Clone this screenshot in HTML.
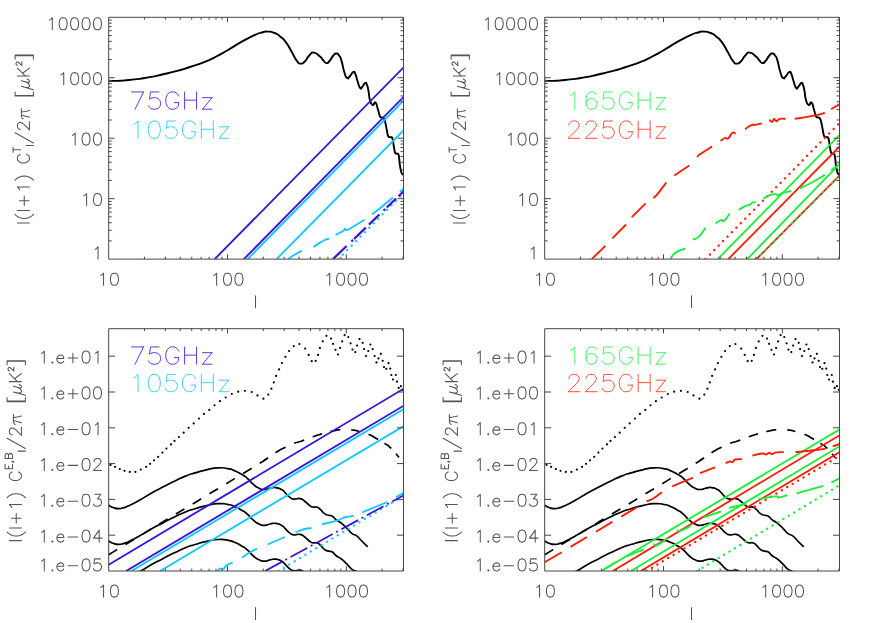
<!DOCTYPE html>
<html><head><meta charset="utf-8"><title>CMB power spectra and foreground noise</title>
<style>html,body{margin:0;padding:0;background:#fff;font-family:"Liberation Sans",sans-serif}svg{display:block}</style>
</head><body>
<svg width="872" height="623" viewBox="0 0 872 623">
<rect width="872" height="623" fill="#fff"/>
<defs>
<clipPath id="c1"><rect x="108.70" y="17.30" width="294.80" height="241.80"/></clipPath>
<clipPath id="c2"><rect x="544.70" y="17.30" width="294.80" height="241.80"/></clipPath>
<clipPath id="c3"><rect x="108.70" y="328.70" width="294.80" height="242.30"/></clipPath>
<clipPath id="c4"><rect x="544.70" y="328.70" width="294.80" height="242.30"/></clipPath>
</defs>
<g clip-path="url(#c1)">
<path d="M108.70 80.80 C112.70 80.77 112.10 81.17 120.70 80.70 C129.30 80.23 125.30 80.50 134.50 79.40 C143.70 78.30 139.07 79.03 148.30 77.40 C157.53 75.77 152.97 76.57 162.20 74.50 C171.43 72.43 166.80 73.70 176.00 71.20 C185.20 68.70 180.60 69.97 189.80 67.00 C199.00 64.03 195.60 65.37 203.60 62.30 C211.60 59.23 205.80 61.83 213.80 57.80 C221.80 53.77 218.40 55.50 227.60 50.20 C236.80 44.90 232.20 47.03 241.40 41.90 C250.60 36.77 248.27 37.93 255.20 34.80 C262.13 31.67 258.03 33.57 262.20 32.50 C266.37 31.43 263.57 31.43 267.70 31.60 C271.83 31.77 270.47 31.40 274.60 33.00 C278.73 34.60 276.43 33.43 280.10 36.40 C283.77 39.37 281.90 37.07 285.60 41.90 C289.30 46.73 287.50 44.67 291.20 50.90 C294.90 57.13 293.50 56.37 296.70 60.60 C299.90 64.83 298.03 63.37 300.80 63.60 C303.57 63.83 302.23 63.93 305.00 61.30 C307.77 58.67 306.13 58.60 309.10 55.70 C312.07 52.80 310.27 52.30 313.90 52.60 C317.53 52.90 316.97 54.13 320.00 56.60 C323.03 59.07 320.90 57.87 323.00 60.00 C325.10 62.13 324.13 62.67 326.30 63.00 C328.47 63.33 327.27 63.33 329.50 61.00 C331.73 58.67 330.77 58.50 333.00 56.00 C335.23 53.50 334.20 53.67 336.20 53.50 C338.20 53.33 337.27 53.20 339.00 55.50 C340.73 57.80 339.63 54.90 341.40 60.40 C343.17 65.90 342.37 66.13 344.30 72.00 C346.23 77.87 345.30 76.67 347.20 78.00 C349.10 79.33 347.93 78.00 350.00 76.00 C352.07 74.00 351.57 72.50 353.40 72.00 C355.23 71.50 354.13 71.50 355.50 74.50 C356.87 77.50 355.93 76.50 357.50 81.00 C359.07 85.50 358.53 86.17 360.20 88.00 C361.87 89.83 360.80 88.17 362.50 86.50 C364.20 84.83 363.80 83.50 365.30 83.00 C366.80 82.50 365.93 82.33 367.00 85.00 C368.07 87.67 367.53 86.10 368.50 91.00 C369.47 95.90 368.53 95.07 369.90 99.70 C371.27 104.33 370.73 103.93 372.60 104.90 C374.47 105.87 373.77 101.23 375.50 102.60 C377.23 103.97 376.53 105.03 377.80 109.00 C379.07 112.97 378.47 111.90 379.30 114.50 C380.13 117.10 379.53 115.83 380.30 116.80 C381.07 117.77 380.70 117.13 381.60 117.40 C382.50 117.67 382.13 117.07 383.00 117.60 C383.87 118.13 383.43 117.37 384.20 119.00 C384.97 120.63 384.43 118.83 385.30 122.50 C386.17 126.17 385.90 125.63 386.80 130.00 C387.70 134.37 387.13 133.27 388.00 135.60 C388.87 137.93 388.23 136.40 389.40 137.00 C390.57 137.60 390.40 136.53 391.50 137.40 C392.60 138.27 391.87 136.20 392.70 139.60 C393.53 143.00 393.23 143.37 394.00 147.60 C394.77 151.83 394.27 150.33 395.00 152.30 C395.73 154.27 395.23 152.97 396.20 153.50 C397.17 154.03 397.00 152.90 397.90 153.90 C398.80 154.90 398.27 153.03 398.90 156.50 C399.53 159.97 399.23 160.13 399.80 164.30 C400.37 168.47 400.03 166.23 400.60 169.00 C401.17 171.77 400.83 170.83 401.50 172.60 C402.17 174.37 401.87 173.57 402.60 174.30 C403.33 175.03 403.33 174.63 403.70 174.80" fill="none" stroke="#000" stroke-width="1.90" stroke-linejoin="round"/>
<path d="M214.70 259.10 L403.70 67.30" fill="none" stroke="#3a12d8" stroke-width="1.85" stroke-linecap="butt"/>
<path d="M243.90 259.10 L403.70 96.80" fill="none" stroke="#3a12d8" stroke-width="1.85" stroke-linecap="butt"/>
<path d="M247.60 259.10 L403.70 100.50" fill="none" stroke="#12c8ff" stroke-width="1.85" stroke-linecap="butt"/>
<path d="M276.60 259.10 L403.70 130.20" fill="none" stroke="#12c8ff" stroke-width="1.85" stroke-linecap="butt"/>
<path d="M338.30 259.10 L403.70 193.00" fill="none" stroke="#12c8ff" stroke-width="2.30" stroke-dasharray="0.1 6.2" stroke-linecap="round"/>
<path d="M333.00 259.10 L346.60 246.04 M351.40 241.43 L353.00 239.89 M354.00 238.93 L365.80 227.60 M368.90 224.62 L379.40 214.54 M383.50 210.60 L385.20 208.97 M386.80 207.43 L396.10 198.50 M398.50 196.19 L403.70 191.20" fill="none" stroke="#3a12d8" stroke-width="2.20" stroke-linecap="butt" stroke-linejoin="round"/>
<path d="M288.20 259.10 C290.01 257.87 291.32 256.71 295.00 254.50 C298.68 252.29 300.13 251.79 302.00 250.80 M313.50 247.00 C315.23 245.83 316.43 244.71 320.00 242.60 C323.57 240.49 324.55 239.98 326.90 239.10 C329.25 238.22 328.29 239.25 328.80 239.30 M335.60 234.90 C337.60 233.86 340.62 232.65 343.10 231.00 C345.58 229.35 343.81 228.99 344.90 228.70 C345.99 228.41 344.59 230.67 347.20 229.90 C349.81 229.13 350.09 228.49 354.70 225.80 C359.31 223.11 361.89 221.40 364.50 219.80 M372.00 214.30 C374.48 212.43 375.75 211.78 381.30 207.30 C386.85 202.82 389.73 200.11 392.80 197.50 M399.80 191.70 L403.70 188.80" fill="none" stroke="#12c8ff" stroke-width="1.85" stroke-linecap="butt" stroke-linejoin="round"/>
</g>
<g clip-path="url(#c2)">
<path d="M544.70 80.80 C548.70 80.77 548.10 81.17 556.70 80.70 C565.30 80.23 561.30 80.50 570.50 79.40 C579.70 78.30 575.07 79.03 584.30 77.40 C593.53 75.77 588.97 76.57 598.20 74.50 C607.43 72.43 602.80 73.70 612.00 71.20 C621.20 68.70 616.60 69.97 625.80 67.00 C635.00 64.03 631.60 65.37 639.60 62.30 C647.60 59.23 641.80 61.83 649.80 57.80 C657.80 53.77 654.40 55.50 663.60 50.20 C672.80 44.90 668.20 47.03 677.40 41.90 C686.60 36.77 684.27 37.93 691.20 34.80 C698.13 31.67 694.03 33.57 698.20 32.50 C702.37 31.43 699.57 31.43 703.70 31.60 C707.83 31.77 706.47 31.40 710.60 33.00 C714.73 34.60 712.43 33.43 716.10 36.40 C719.77 39.37 717.90 37.07 721.60 41.90 C725.30 46.73 723.50 44.67 727.20 50.90 C730.90 57.13 729.50 56.37 732.70 60.60 C735.90 64.83 734.03 63.37 736.80 63.60 C739.57 63.83 738.23 63.93 741.00 61.30 C743.77 58.67 742.13 58.60 745.10 55.70 C748.07 52.80 746.27 52.30 749.90 52.60 C753.53 52.90 752.97 54.13 756.00 56.60 C759.03 59.07 756.90 57.87 759.00 60.00 C761.10 62.13 760.13 62.67 762.30 63.00 C764.47 63.33 763.27 63.33 765.50 61.00 C767.73 58.67 766.77 58.50 769.00 56.00 C771.23 53.50 770.20 53.67 772.20 53.50 C774.20 53.33 773.27 53.20 775.00 55.50 C776.73 57.80 775.63 54.90 777.40 60.40 C779.17 65.90 778.37 66.13 780.30 72.00 C782.23 77.87 781.30 76.67 783.20 78.00 C785.10 79.33 783.93 78.00 786.00 76.00 C788.07 74.00 787.57 72.50 789.40 72.00 C791.23 71.50 790.13 71.50 791.50 74.50 C792.87 77.50 791.93 76.50 793.50 81.00 C795.07 85.50 794.53 86.17 796.20 88.00 C797.87 89.83 796.80 88.17 798.50 86.50 C800.20 84.83 799.80 83.50 801.30 83.00 C802.80 82.50 801.93 82.33 803.00 85.00 C804.07 87.67 803.53 86.10 804.50 91.00 C805.47 95.90 804.53 95.07 805.90 99.70 C807.27 104.33 806.73 103.93 808.60 104.90 C810.47 105.87 809.77 101.23 811.50 102.60 C813.23 103.97 812.53 105.03 813.80 109.00 C815.07 112.97 814.47 111.90 815.30 114.50 C816.13 117.10 815.53 115.83 816.30 116.80 C817.07 117.77 816.70 117.13 817.60 117.40 C818.50 117.67 818.13 117.07 819.00 117.60 C819.87 118.13 819.43 117.37 820.20 119.00 C820.97 120.63 820.43 118.83 821.30 122.50 C822.17 126.17 821.90 125.63 822.80 130.00 C823.70 134.37 823.13 133.27 824.00 135.60 C824.87 137.93 824.23 136.40 825.40 137.00 C826.57 137.60 826.40 136.53 827.50 137.40 C828.60 138.27 827.87 136.20 828.70 139.60 C829.53 143.00 829.23 143.37 830.00 147.60 C830.77 151.83 830.27 150.33 831.00 152.30 C831.73 154.27 831.23 152.97 832.20 153.50 C833.17 154.03 833.00 152.90 833.90 153.90 C834.80 154.90 834.27 153.03 834.90 156.50 C835.53 159.97 835.23 160.13 835.80 164.30 C836.37 168.47 836.03 166.23 836.60 169.00 C837.17 171.77 836.83 170.83 837.50 172.60 C838.17 174.37 837.87 173.57 838.60 174.30 C839.33 175.03 839.33 174.63 839.70 174.80" fill="none" stroke="#000" stroke-width="1.90" stroke-linejoin="round"/>
<path d="M705.40 259.10 L839.70 122.80" fill="none" stroke="#ff1c00" stroke-width="2.30" stroke-dasharray="0.1 6.2" stroke-linecap="round"/>
<path d="M717.80 259.10 L839.70 134.80" fill="none" stroke="#18f038" stroke-width="1.85" stroke-linecap="butt"/>
<path d="M728.30 259.10 L839.70 146.40" fill="none" stroke="#ff1c00" stroke-width="1.85" stroke-linecap="butt"/>
<path d="M747.30 259.10 L839.70 163.80" fill="none" stroke="#18f038" stroke-width="1.85" stroke-linecap="butt"/>
<path d="M756.50 259.10 L839.70 175.30" fill="none" stroke="#ff1c00" stroke-width="1.85" stroke-linecap="butt"/>
<path d="M756.50 259.10 L839.70 175.30" fill="none" stroke="#18f038" stroke-width="2.30" stroke-dasharray="0.1 6.2" stroke-linecap="round"/>
<path d="M591.70 259.10 L605.40 245.80 M612.30 238.30 L626.10 224.50 M631.80 217.10 L645.60 203.40 M653.70 196.20 C654.31 196.09 652.64 199.45 656.00 195.80 C659.36 192.15 663.55 186.05 666.30 182.50 M674.30 175.60 L689.30 165.50 M697.30 157.20 C698.02 156.40 696.05 157.03 700.00 154.20 C703.95 151.37 708.87 148.63 712.10 146.60 M720.60 141.10 C721.75 140.27 722.85 138.75 724.90 138.00 C726.95 137.25 726.30 139.69 728.30 138.30 C730.30 136.91 730.40 134.03 732.40 132.80 C734.40 131.57 734.89 133.46 735.80 133.70 M745.10 129.30 C746.65 128.23 747.83 126.53 750.90 125.30 C753.97 124.07 753.69 125.23 756.60 124.70 C759.51 124.17 760.41 123.67 761.80 123.30 M769.40 119.80 C770.17 120.33 771.07 122.09 772.30 121.80 C773.53 121.51 772.93 118.86 774.00 118.70 C775.07 118.54 774.75 121.15 776.30 121.20 C777.85 121.25 777.35 119.51 779.80 118.90 C782.25 118.29 783.98 118.90 785.50 118.90 M794.80 118.90 C799.25 118.18 803.50 117.77 811.50 116.20 C819.50 114.63 821.25 113.85 824.80 113.00 M831.10 109.30 L839.70 104.10" fill="none" stroke="#ff1c00" stroke-width="1.85" stroke-linecap="butt" stroke-linejoin="round"/>
<path d="M670.40 259.10 C671.76 257.39 671.58 255.50 675.50 252.70 C679.42 249.90 682.54 249.69 685.10 248.60 M692.70 239.40 C694.22 238.79 694.99 240.19 698.40 237.10 C701.81 234.01 703.61 230.28 705.50 227.80 M715.60 223.40 C716.99 222.52 718.48 220.82 720.80 220.10 C723.12 219.38 721.98 222.38 724.30 220.70 C726.62 219.02 728.11 215.64 729.50 213.80 M738.70 209.70 C740.70 208.63 743.27 206.98 746.20 205.70 C749.13 204.42 747.99 205.75 749.70 204.90 C751.41 204.05 751.05 203.14 752.60 202.50 C754.15 201.86 754.73 202.50 755.50 202.50 M763.40 198.70 C765.00 197.79 766.28 196.53 769.40 195.30 C772.52 194.07 772.65 193.97 775.10 194.10 C777.55 194.23 777.05 195.96 778.60 195.80 C780.15 195.64 777.51 194.78 780.90 193.50 C784.29 192.22 788.53 191.67 791.30 191.00 M799.90 188.20 C803.13 186.68 805.36 186.05 812.00 182.50 C818.64 178.95 821.39 176.93 824.80 174.90 M831.10 170.30 L839.70 163.90" fill="none" stroke="#18f038" stroke-width="1.85" stroke-linecap="butt" stroke-linejoin="round"/>
</g>
<g clip-path="url(#c3)">
<g fill="#000"><circle cx="110.50" cy="464.90" r="1.1"/><circle cx="115.10" cy="466.80" r="1.1"/><circle cx="119.80" cy="469.10" r="1.1"/><circle cx="124.50" cy="470.80" r="1.1"/><circle cx="129.80" cy="471.90" r="1.1"/><circle cx="135.40" cy="471.90" r="1.1"/><circle cx="140.80" cy="469.60" r="1.1"/><circle cx="146.10" cy="466.80" r="1.1"/><circle cx="150.10" cy="463.80" r="1.1"/><circle cx="154.00" cy="460.30" r="1.1"/><circle cx="158.20" cy="456.80" r="1.1"/><circle cx="162.40" cy="452.60" r="1.1"/><circle cx="166.40" cy="448.60" r="1.1"/><circle cx="171.00" cy="444.40" r="1.1"/><circle cx="174.50" cy="440.90" r="1.1"/><circle cx="178.90" cy="437.00" r="1.1"/><circle cx="183.70" cy="432.70" r="1.1"/><circle cx="188.70" cy="427.80" r="1.1"/><circle cx="193.70" cy="423.40" r="1.1"/><circle cx="198.90" cy="418.60" r="1.1"/><circle cx="203.90" cy="413.90" r="1.1"/><circle cx="209.30" cy="409.90" r="1.1"/><circle cx="214.50" cy="405.30" r="1.1"/><circle cx="219.90" cy="401.20" r="1.1"/><circle cx="225.70" cy="397.50" r="1.1"/><circle cx="231.80" cy="394.00" r="1.1"/><circle cx="238.20" cy="391.70" r="1.1"/><circle cx="244.90" cy="390.80" r="1.1"/><circle cx="251.70" cy="392.00" r="1.1"/><circle cx="257.50" cy="395.40" r="1.1"/><circle cx="263.40" cy="398.70" r="1.1"/><circle cx="268.30" cy="394.60" r="1.1"/><circle cx="271.40" cy="388.70" r="1.1"/><circle cx="273.80" cy="382.40" r="1.1"/><circle cx="276.10" cy="375.90" r="1.1"/><circle cx="279.10" cy="369.40" r="1.1"/><circle cx="281.90" cy="363.10" r="1.1"/><circle cx="285.40" cy="356.80" r="1.1"/><circle cx="289.10" cy="351.00" r="1.1"/><circle cx="293.80" cy="346.10" r="1.1"/><circle cx="299.40" cy="344.00" r="1.1"/><circle cx="305.20" cy="348.60" r="1.1"/><circle cx="308.70" cy="354.90" r="1.1"/><circle cx="311.70" cy="361.20" r="1.1"/><circle cx="315.70" cy="360.80" r="1.1"/><circle cx="318.00" cy="354.90" r="1.1"/><circle cx="319.90" cy="347.90" r="1.1"/><circle cx="322.70" cy="341.40" r="1.1"/><circle cx="326.40" cy="335.80" r="1.1"/><circle cx="331.00" cy="338.60" r="1.1"/><circle cx="333.10" cy="343.80" r="1.1"/><circle cx="335.50" cy="349.80" r="1.1"/><circle cx="338.00" cy="354.50" r="1.1"/><circle cx="340.10" cy="347.90" r="1.1"/><circle cx="342.20" cy="341.40" r="1.1"/><circle cx="344.60" cy="335.10" r="1.1"/><circle cx="348.30" cy="337.00" r="1.1"/><circle cx="350.60" cy="343.30" r="1.1"/><circle cx="352.50" cy="349.60" r="1.1"/><circle cx="355.30" cy="352.10" r="1.1"/><circle cx="357.10" cy="345.60" r="1.1"/><circle cx="359.50" cy="339.10" r="1.1"/><circle cx="362.70" cy="342.80" r="1.1"/><circle cx="364.10" cy="349.10" r="1.1"/><circle cx="366.00" cy="356.10" r="1.1"/><circle cx="368.30" cy="351.00" r="1.1"/><circle cx="370.40" cy="344.50" r="1.1"/><circle cx="372.70" cy="349.10" r="1.1"/><circle cx="374.60" cy="356.10" r="1.1"/><circle cx="376.50" cy="362.40" r="1.1"/><circle cx="378.50" cy="358.40" r="1.1"/><circle cx="380.90" cy="353.80" r="1.1"/><circle cx="382.70" cy="360.80" r="1.1"/><circle cx="384.00" cy="367.10" r="1.1"/><circle cx="386.30" cy="368.80" r="1.1"/><circle cx="388.50" cy="363.20" r="1.1"/><circle cx="390.20" cy="368.60" r="1.1"/><circle cx="391.30" cy="375.00" r="1.1"/><circle cx="393.00" cy="379.50" r="1.1"/><circle cx="395.80" cy="375.00" r="1.1"/><circle cx="397.00" cy="381.70" r="1.1"/><circle cx="398.70" cy="387.90" r="1.1"/><circle cx="400.90" cy="386.20" r="1.1"/><circle cx="402.80" cy="389.80" r="1.1"/></g>
<path d="M108.70 505.20 C110.13 505.97 109.60 506.37 113.00 507.50 C116.40 508.63 115.23 508.57 118.90 508.60 C122.57 508.63 120.93 508.43 124.00 507.60 C127.07 506.77 122.87 508.63 128.10 506.10 C133.33 503.57 132.00 504.30 139.70 500.00 C147.40 495.70 143.50 497.50 151.20 493.20 C158.90 488.90 155.07 491.10 162.80 487.10 C170.53 483.10 166.70 484.93 174.40 481.20 C182.10 477.47 179.03 478.67 185.90 475.90 C192.77 473.13 188.10 474.93 195.00 472.90 C201.90 470.87 198.90 471.47 206.60 469.80 C214.30 468.13 211.17 468.30 218.10 467.90 C225.03 467.50 222.00 467.70 227.40 468.60 C232.80 469.50 229.70 468.77 234.30 470.60 C238.90 472.43 236.97 471.60 241.20 474.10 C245.43 476.60 243.13 474.83 247.00 478.10 C250.87 481.37 248.93 480.60 252.80 483.90 C256.67 487.20 254.73 486.13 258.60 488.00 C262.47 489.87 260.57 489.43 264.40 489.50 C268.23 489.57 266.27 488.83 270.10 488.20 C273.93 487.57 272.03 487.10 275.90 487.60 C279.77 488.10 278.67 488.07 281.70 489.70 C284.73 491.33 282.37 490.03 285.00 492.50 C287.63 494.97 286.53 494.90 289.60 497.10 C292.67 499.30 290.73 498.60 294.20 499.10 C297.67 499.60 296.50 497.90 300.00 498.60 C303.50 499.30 301.60 499.00 304.70 501.20 C307.80 503.40 306.63 503.27 309.30 505.20 C311.97 507.13 310.00 506.33 312.70 507.00 C315.40 507.67 314.70 506.23 317.40 507.20 C320.10 508.17 318.30 507.67 320.80 509.90 C323.30 512.13 322.20 512.10 324.90 513.90 C327.60 515.70 326.40 514.53 328.90 515.30 C331.40 516.07 330.07 514.73 332.40 516.20 C334.73 517.67 333.60 517.83 335.90 519.70 C338.20 521.57 337.00 520.27 339.30 521.80 C341.60 523.33 340.10 521.93 342.80 524.30 C345.50 526.67 344.30 525.80 347.40 528.90 C350.50 532.00 349.00 531.27 352.10 533.60 C355.20 535.93 353.63 533.60 356.70 535.90 C359.77 538.20 357.63 536.87 361.30 540.50 C364.97 544.13 365.57 544.70 367.70 546.80" fill="none" stroke="#000" stroke-width="1.7" stroke-linejoin="round"/>
<path d="M108.70 541.00 C110.13 541.77 109.60 542.17 113.00 543.30 C116.40 544.43 115.23 544.37 118.90 544.40 C122.57 544.43 120.93 544.23 124.00 543.40 C127.07 542.57 122.87 544.43 128.10 541.90 C133.33 539.37 132.00 540.10 139.70 535.80 C147.40 531.50 143.50 533.30 151.20 529.00 C158.90 524.70 155.07 526.90 162.80 522.90 C170.53 518.90 166.70 520.73 174.40 517.00 C182.10 513.27 179.03 514.47 185.90 511.70 C192.77 508.93 188.10 510.73 195.00 508.70 C201.90 506.67 198.90 507.27 206.60 505.60 C214.30 503.93 211.17 504.10 218.10 503.70 C225.03 503.30 222.00 503.50 227.40 504.40 C232.80 505.30 229.70 504.57 234.30 506.40 C238.90 508.23 236.97 507.40 241.20 509.90 C245.43 512.40 243.13 510.63 247.00 513.90 C250.87 517.17 248.93 516.40 252.80 519.70 C256.67 523.00 254.73 521.93 258.60 523.80 C262.47 525.67 260.57 525.23 264.40 525.30 C268.23 525.37 266.27 524.63 270.10 524.00 C273.93 523.37 272.03 522.90 275.90 523.40 C279.77 523.90 278.67 523.87 281.70 525.50 C284.73 527.13 282.37 525.83 285.00 528.30 C287.63 530.77 286.53 530.70 289.60 532.90 C292.67 535.10 290.73 534.40 294.20 534.90 C297.67 535.40 296.50 533.70 300.00 534.40 C303.50 535.10 301.60 534.80 304.70 537.00 C307.80 539.20 306.63 539.07 309.30 541.00 C311.97 542.93 310.00 542.13 312.70 542.80 C315.40 543.47 314.70 542.03 317.40 543.00 C320.10 543.97 318.30 543.47 320.80 545.70 C323.30 547.93 322.20 547.90 324.90 549.70 C327.60 551.50 326.40 550.33 328.90 551.10 C331.40 551.87 330.07 550.53 332.40 552.00 C334.73 553.47 333.60 553.63 335.90 555.50 C338.20 557.37 337.00 556.07 339.30 557.60 C341.60 559.13 340.10 557.73 342.80 560.10 C345.50 562.47 344.30 561.60 347.40 564.70 C350.50 567.80 349.00 567.07 352.10 569.40 C355.20 571.73 353.63 569.40 356.70 571.70 C359.77 574.00 357.63 572.67 361.30 576.30 C364.97 579.93 365.57 580.50 367.70 582.60" fill="none" stroke="#000" stroke-width="1.7" stroke-linejoin="round"/>
<path d="M108.70 576.80 C110.13 577.57 109.60 577.97 113.00 579.10 C116.40 580.23 115.23 580.17 118.90 580.20 C122.57 580.23 120.93 580.03 124.00 579.20 C127.07 578.37 122.87 580.23 128.10 577.70 C133.33 575.17 132.00 575.90 139.70 571.60 C147.40 567.30 143.50 569.10 151.20 564.80 C158.90 560.50 155.07 562.70 162.80 558.70 C170.53 554.70 166.70 556.53 174.40 552.80 C182.10 549.07 179.03 550.27 185.90 547.50 C192.77 544.73 188.10 546.53 195.00 544.50 C201.90 542.47 198.90 543.07 206.60 541.40 C214.30 539.73 211.17 539.90 218.10 539.50 C225.03 539.10 222.00 539.30 227.40 540.20 C232.80 541.10 229.70 540.37 234.30 542.20 C238.90 544.03 236.97 543.20 241.20 545.70 C245.43 548.20 243.13 546.43 247.00 549.70 C250.87 552.97 248.93 552.20 252.80 555.50 C256.67 558.80 254.73 557.73 258.60 559.60 C262.47 561.47 260.57 561.03 264.40 561.10 C268.23 561.17 266.27 560.43 270.10 559.80 C273.93 559.17 272.03 558.70 275.90 559.20 C279.77 559.70 278.67 559.67 281.70 561.30 C284.73 562.93 282.37 561.63 285.00 564.10 C287.63 566.57 286.53 566.50 289.60 568.70 C292.67 570.90 290.73 570.20 294.20 570.70 C297.67 571.20 296.50 569.50 300.00 570.20 C303.50 570.90 301.60 570.60 304.70 572.80 C307.80 575.00 306.63 574.87 309.30 576.80 C311.97 578.73 310.00 577.93 312.70 578.60 C315.40 579.27 314.70 577.83 317.40 578.80 C320.10 579.77 318.30 579.27 320.80 581.50 C323.30 583.73 322.20 583.70 324.90 585.50 C327.60 587.30 326.40 586.13 328.90 586.90 C331.40 587.67 330.07 586.33 332.40 587.80 C334.73 589.27 333.60 589.43 335.90 591.30 C338.20 593.17 337.00 591.87 339.30 593.40 C341.60 594.93 340.10 593.53 342.80 595.90 C345.50 598.27 344.30 597.40 347.40 600.50 C350.50 603.60 349.00 602.87 352.10 605.20 C355.20 607.53 353.63 605.20 356.70 607.50 C359.77 609.80 357.63 608.47 361.30 612.10 C364.97 615.73 365.57 616.30 367.70 618.40" fill="none" stroke="#000" stroke-width="1.7" stroke-linejoin="round"/>
<path d="M108.70 554.70 L114.19 551.38 L117.20 549.56 M125.50 544.55 L127.18 543.53 L131.18 541.12 L134.00 539.41 M142.30 534.39 L145.66 532.37 L150.80 529.26 M159.10 524.24 L159.85 523.78 L167.60 519.10 M175.90 514.08 L180.00 511.60 L184.40 508.94 M192.70 503.92 L199.78 499.65 L201.20 498.79 M209.50 493.78 L213.17 491.57 L218.00 488.66 M226.30 483.66 L226.59 483.48 L230.50 481.12 L234.63 478.61 L234.80 478.51 M243.10 473.46 L244.78 472.44 L251.40 468.40 L251.60 468.28 M259.70 463.32 L261.92 461.96 L264.59 460.30 L265.97 459.44 L266.35 459.17 L266.05 459.31 L265.39 459.68 L264.67 460.07 L264.21 460.31 L264.32 460.21 L265.31 459.57 L267.50 458.20 L268.10 457.82 M275.60 452.79 L275.65 452.75 L276.49 452.15 L277.34 451.57 L278.34 450.95 L279.59 450.23 L281.22 449.36 L283.35 448.27 L285.60 447.15 M294.20 443.20 L294.84 442.97 L295.69 442.71 L296.52 442.49 L297.46 442.26 L298.63 441.94 L300.14 441.48 L302.13 440.82 L304.20 440.08 M312.90 436.81 L312.91 436.80 L313.68 436.51 L314.39 436.25 L315.17 435.97 L316.11 435.66 L317.33 435.26 L318.92 434.76 L321.00 434.10 L322.00 433.78 M330.30 431.53 L331.40 431.32 L333.00 431.00 L334.62 430.66 L335.85 430.40 L336.77 430.20 L337.44 430.04 L337.96 429.94 L338.38 429.86 L338.77 429.81 L339.22 429.78 L339.80 429.75 L340.30 429.73 M351.20 429.90 L352.00 430.00 L353.29 430.16 L354.28 430.28 L355.02 430.38 L355.58 430.46 L356.01 430.53 L356.37 430.61 L356.74 430.71 L357.16 430.83 L357.69 430.99 L358.40 431.20 L359.35 431.46 L359.40 431.48 M368.50 434.29 L369.00 434.50 L370.20 435.02 L371.12 435.43 L371.82 435.76 L372.35 436.02 L372.76 436.25 L373.11 436.46 L373.45 436.69 L373.84 436.94 L374.32 437.26 L374.96 437.66 L375.80 438.16 L376.90 438.80 L378.00 439.42 L378.10 439.47 M384.50 443.32 L385.02 443.66 L385.78 444.12 L386.34 444.43 L386.75 444.63 L387.06 444.78 L387.32 444.91 L387.60 445.08 L387.93 445.33 L388.37 445.71 L388.98 446.27 L389.80 447.05 L390.90 448.10 L391.30 448.49 M396.10 453.76 L396.32 454.04 L396.81 454.68 L397.30 455.31 L397.81 455.97 L398.37 456.66 L399.00 457.40" fill="none" stroke="#000" stroke-width="1.7" stroke-linejoin="round"/>
<path d="M108.70 564.70 L403.70 388.70" fill="none" stroke="#3a12d8" stroke-width="1.85" stroke-linecap="butt"/>
<path d="M126.10 571.00 L403.70 405.70" fill="none" stroke="#3a12d8" stroke-width="1.85" stroke-linecap="butt"/>
<path d="M131.40 571.00 L403.70 409.00" fill="none" stroke="#12c8ff" stroke-width="1.85" stroke-linecap="butt"/>
<path d="M160.10 571.00 L403.70 426.00" fill="none" stroke="#12c8ff" stroke-width="1.85" stroke-linecap="butt"/>
<path d="M278.40 571.00 L403.70 495.50" fill="none" stroke="#12c8ff" stroke-width="2.30" stroke-dasharray="0.1 6.2" stroke-linecap="round"/>
<path d="M265.10 571.00 L403.70 495.20" fill="none" stroke="#3a12d8" stroke-width="1.75" stroke-dasharray="19 4 2 4" stroke-linecap="butt"/>
<path d="M217.60 571.00 C218.24 570.33 218.56 569.03 220.00 568.50 C221.44 567.97 221.16 569.91 223.00 569.00 C224.84 568.09 224.31 566.78 226.90 565.10 C229.49 563.42 231.15 563.34 232.70 562.70 M242.10 557.60 C244.21 556.19 246.03 554.65 250.00 552.30 C253.97 549.95 255.13 549.73 257.00 548.80 M267.50 544.50 L284.90 537.00 M295.30 532.50 C297.81 531.57 300.35 530.15 304.70 529.00 C309.05 527.85 309.76 528.41 311.60 528.20 M321.90 524.40 C325.58 523.47 330.61 522.34 335.70 520.90 C340.79 519.46 338.25 520.04 341.00 519.00 C343.75 517.96 342.59 517.85 346.00 517.00 C349.41 516.15 351.72 516.12 353.80 515.80 M362.40 512.30 L387.30 502.00 M395.90 497.20 L403.70 492.90" fill="none" stroke="#12c8ff" stroke-width="1.85" stroke-linecap="butt" stroke-linejoin="round"/>
</g>
<g clip-path="url(#c4)">
<g fill="#000"><circle cx="546.50" cy="464.90" r="1.1"/><circle cx="551.10" cy="466.80" r="1.1"/><circle cx="555.80" cy="469.10" r="1.1"/><circle cx="560.50" cy="470.80" r="1.1"/><circle cx="565.80" cy="471.90" r="1.1"/><circle cx="571.40" cy="471.90" r="1.1"/><circle cx="576.80" cy="469.60" r="1.1"/><circle cx="582.10" cy="466.80" r="1.1"/><circle cx="586.10" cy="463.80" r="1.1"/><circle cx="590.00" cy="460.30" r="1.1"/><circle cx="594.20" cy="456.80" r="1.1"/><circle cx="598.40" cy="452.60" r="1.1"/><circle cx="602.40" cy="448.60" r="1.1"/><circle cx="607.00" cy="444.40" r="1.1"/><circle cx="610.50" cy="440.90" r="1.1"/><circle cx="614.90" cy="437.00" r="1.1"/><circle cx="619.70" cy="432.70" r="1.1"/><circle cx="624.70" cy="427.80" r="1.1"/><circle cx="629.70" cy="423.40" r="1.1"/><circle cx="634.90" cy="418.60" r="1.1"/><circle cx="639.90" cy="413.90" r="1.1"/><circle cx="645.30" cy="409.90" r="1.1"/><circle cx="650.50" cy="405.30" r="1.1"/><circle cx="655.90" cy="401.20" r="1.1"/><circle cx="661.70" cy="397.50" r="1.1"/><circle cx="667.80" cy="394.00" r="1.1"/><circle cx="674.20" cy="391.70" r="1.1"/><circle cx="680.90" cy="390.80" r="1.1"/><circle cx="687.70" cy="392.00" r="1.1"/><circle cx="693.50" cy="395.40" r="1.1"/><circle cx="699.40" cy="398.70" r="1.1"/><circle cx="704.30" cy="394.60" r="1.1"/><circle cx="707.40" cy="388.70" r="1.1"/><circle cx="709.80" cy="382.40" r="1.1"/><circle cx="712.10" cy="375.90" r="1.1"/><circle cx="715.10" cy="369.40" r="1.1"/><circle cx="717.90" cy="363.10" r="1.1"/><circle cx="721.40" cy="356.80" r="1.1"/><circle cx="725.10" cy="351.00" r="1.1"/><circle cx="729.80" cy="346.10" r="1.1"/><circle cx="735.40" cy="344.00" r="1.1"/><circle cx="741.20" cy="348.60" r="1.1"/><circle cx="744.70" cy="354.90" r="1.1"/><circle cx="747.70" cy="361.20" r="1.1"/><circle cx="751.70" cy="360.80" r="1.1"/><circle cx="754.00" cy="354.90" r="1.1"/><circle cx="755.90" cy="347.90" r="1.1"/><circle cx="758.70" cy="341.40" r="1.1"/><circle cx="762.40" cy="335.80" r="1.1"/><circle cx="767.00" cy="338.60" r="1.1"/><circle cx="769.10" cy="343.80" r="1.1"/><circle cx="771.50" cy="349.80" r="1.1"/><circle cx="774.00" cy="354.50" r="1.1"/><circle cx="776.10" cy="347.90" r="1.1"/><circle cx="778.20" cy="341.40" r="1.1"/><circle cx="780.60" cy="335.10" r="1.1"/><circle cx="784.30" cy="337.00" r="1.1"/><circle cx="786.60" cy="343.30" r="1.1"/><circle cx="788.50" cy="349.60" r="1.1"/><circle cx="791.30" cy="352.10" r="1.1"/><circle cx="793.10" cy="345.60" r="1.1"/><circle cx="795.50" cy="339.10" r="1.1"/><circle cx="798.70" cy="342.80" r="1.1"/><circle cx="800.10" cy="349.10" r="1.1"/><circle cx="802.00" cy="356.10" r="1.1"/><circle cx="804.30" cy="351.00" r="1.1"/><circle cx="806.40" cy="344.50" r="1.1"/><circle cx="808.70" cy="349.10" r="1.1"/><circle cx="810.60" cy="356.10" r="1.1"/><circle cx="812.50" cy="362.40" r="1.1"/><circle cx="814.50" cy="358.40" r="1.1"/><circle cx="816.90" cy="353.80" r="1.1"/><circle cx="818.70" cy="360.80" r="1.1"/><circle cx="820.00" cy="367.10" r="1.1"/><circle cx="822.30" cy="368.80" r="1.1"/><circle cx="824.50" cy="363.20" r="1.1"/><circle cx="826.20" cy="368.60" r="1.1"/><circle cx="827.30" cy="375.00" r="1.1"/><circle cx="829.00" cy="379.50" r="1.1"/><circle cx="831.80" cy="375.00" r="1.1"/><circle cx="833.00" cy="381.70" r="1.1"/><circle cx="834.70" cy="387.90" r="1.1"/><circle cx="836.90" cy="386.20" r="1.1"/><circle cx="838.80" cy="389.80" r="1.1"/></g>
<path d="M544.70 505.20 C546.13 505.97 545.60 506.37 549.00 507.50 C552.40 508.63 551.23 508.57 554.90 508.60 C558.57 508.63 556.93 508.43 560.00 507.60 C563.07 506.77 558.87 508.63 564.10 506.10 C569.33 503.57 568.00 504.30 575.70 500.00 C583.40 495.70 579.50 497.50 587.20 493.20 C594.90 488.90 591.07 491.10 598.80 487.10 C606.53 483.10 602.70 484.93 610.40 481.20 C618.10 477.47 615.03 478.67 621.90 475.90 C628.77 473.13 624.10 474.93 631.00 472.90 C637.90 470.87 634.90 471.47 642.60 469.80 C650.30 468.13 647.17 468.30 654.10 467.90 C661.03 467.50 658.00 467.70 663.40 468.60 C668.80 469.50 665.70 468.77 670.30 470.60 C674.90 472.43 672.97 471.60 677.20 474.10 C681.43 476.60 679.13 474.83 683.00 478.10 C686.87 481.37 684.93 480.60 688.80 483.90 C692.67 487.20 690.73 486.13 694.60 488.00 C698.47 489.87 696.57 489.43 700.40 489.50 C704.23 489.57 702.27 488.83 706.10 488.20 C709.93 487.57 708.03 487.10 711.90 487.60 C715.77 488.10 714.67 488.07 717.70 489.70 C720.73 491.33 718.37 490.03 721.00 492.50 C723.63 494.97 722.53 494.90 725.60 497.10 C728.67 499.30 726.73 498.60 730.20 499.10 C733.67 499.60 732.50 497.90 736.00 498.60 C739.50 499.30 737.60 499.00 740.70 501.20 C743.80 503.40 742.63 503.27 745.30 505.20 C747.97 507.13 746.00 506.33 748.70 507.00 C751.40 507.67 750.70 506.23 753.40 507.20 C756.10 508.17 754.30 507.67 756.80 509.90 C759.30 512.13 758.20 512.10 760.90 513.90 C763.60 515.70 762.40 514.53 764.90 515.30 C767.40 516.07 766.07 514.73 768.40 516.20 C770.73 517.67 769.60 517.83 771.90 519.70 C774.20 521.57 773.00 520.27 775.30 521.80 C777.60 523.33 776.10 521.93 778.80 524.30 C781.50 526.67 780.30 525.80 783.40 528.90 C786.50 532.00 785.00 531.27 788.10 533.60 C791.20 535.93 789.63 533.60 792.70 535.90 C795.77 538.20 793.63 536.87 797.30 540.50 C800.97 544.13 801.57 544.70 803.70 546.80" fill="none" stroke="#000" stroke-width="1.7" stroke-linejoin="round"/>
<path d="M544.70 541.00 C546.13 541.77 545.60 542.17 549.00 543.30 C552.40 544.43 551.23 544.37 554.90 544.40 C558.57 544.43 556.93 544.23 560.00 543.40 C563.07 542.57 558.87 544.43 564.10 541.90 C569.33 539.37 568.00 540.10 575.70 535.80 C583.40 531.50 579.50 533.30 587.20 529.00 C594.90 524.70 591.07 526.90 598.80 522.90 C606.53 518.90 602.70 520.73 610.40 517.00 C618.10 513.27 615.03 514.47 621.90 511.70 C628.77 508.93 624.10 510.73 631.00 508.70 C637.90 506.67 634.90 507.27 642.60 505.60 C650.30 503.93 647.17 504.10 654.10 503.70 C661.03 503.30 658.00 503.50 663.40 504.40 C668.80 505.30 665.70 504.57 670.30 506.40 C674.90 508.23 672.97 507.40 677.20 509.90 C681.43 512.40 679.13 510.63 683.00 513.90 C686.87 517.17 684.93 516.40 688.80 519.70 C692.67 523.00 690.73 521.93 694.60 523.80 C698.47 525.67 696.57 525.23 700.40 525.30 C704.23 525.37 702.27 524.63 706.10 524.00 C709.93 523.37 708.03 522.90 711.90 523.40 C715.77 523.90 714.67 523.87 717.70 525.50 C720.73 527.13 718.37 525.83 721.00 528.30 C723.63 530.77 722.53 530.70 725.60 532.90 C728.67 535.10 726.73 534.40 730.20 534.90 C733.67 535.40 732.50 533.70 736.00 534.40 C739.50 535.10 737.60 534.80 740.70 537.00 C743.80 539.20 742.63 539.07 745.30 541.00 C747.97 542.93 746.00 542.13 748.70 542.80 C751.40 543.47 750.70 542.03 753.40 543.00 C756.10 543.97 754.30 543.47 756.80 545.70 C759.30 547.93 758.20 547.90 760.90 549.70 C763.60 551.50 762.40 550.33 764.90 551.10 C767.40 551.87 766.07 550.53 768.40 552.00 C770.73 553.47 769.60 553.63 771.90 555.50 C774.20 557.37 773.00 556.07 775.30 557.60 C777.60 559.13 776.10 557.73 778.80 560.10 C781.50 562.47 780.30 561.60 783.40 564.70 C786.50 567.80 785.00 567.07 788.10 569.40 C791.20 571.73 789.63 569.40 792.70 571.70 C795.77 574.00 793.63 572.67 797.30 576.30 C800.97 579.93 801.57 580.50 803.70 582.60" fill="none" stroke="#000" stroke-width="1.7" stroke-linejoin="round"/>
<path d="M544.70 576.80 C546.13 577.57 545.60 577.97 549.00 579.10 C552.40 580.23 551.23 580.17 554.90 580.20 C558.57 580.23 556.93 580.03 560.00 579.20 C563.07 578.37 558.87 580.23 564.10 577.70 C569.33 575.17 568.00 575.90 575.70 571.60 C583.40 567.30 579.50 569.10 587.20 564.80 C594.90 560.50 591.07 562.70 598.80 558.70 C606.53 554.70 602.70 556.53 610.40 552.80 C618.10 549.07 615.03 550.27 621.90 547.50 C628.77 544.73 624.10 546.53 631.00 544.50 C637.90 542.47 634.90 543.07 642.60 541.40 C650.30 539.73 647.17 539.90 654.10 539.50 C661.03 539.10 658.00 539.30 663.40 540.20 C668.80 541.10 665.70 540.37 670.30 542.20 C674.90 544.03 672.97 543.20 677.20 545.70 C681.43 548.20 679.13 546.43 683.00 549.70 C686.87 552.97 684.93 552.20 688.80 555.50 C692.67 558.80 690.73 557.73 694.60 559.60 C698.47 561.47 696.57 561.03 700.40 561.10 C704.23 561.17 702.27 560.43 706.10 559.80 C709.93 559.17 708.03 558.70 711.90 559.20 C715.77 559.70 714.67 559.67 717.70 561.30 C720.73 562.93 718.37 561.63 721.00 564.10 C723.63 566.57 722.53 566.50 725.60 568.70 C728.67 570.90 726.73 570.20 730.20 570.70 C733.67 571.20 732.50 569.50 736.00 570.20 C739.50 570.90 737.60 570.60 740.70 572.80 C743.80 575.00 742.63 574.87 745.30 576.80 C747.97 578.73 746.00 577.93 748.70 578.60 C751.40 579.27 750.70 577.83 753.40 578.80 C756.10 579.77 754.30 579.27 756.80 581.50 C759.30 583.73 758.20 583.70 760.90 585.50 C763.60 587.30 762.40 586.13 764.90 586.90 C767.40 587.67 766.07 586.33 768.40 587.80 C770.73 589.27 769.60 589.43 771.90 591.30 C774.20 593.17 773.00 591.87 775.30 593.40 C777.60 594.93 776.10 593.53 778.80 595.90 C781.50 598.27 780.30 597.40 783.40 600.50 C786.50 603.60 785.00 602.87 788.10 605.20 C791.20 607.53 789.63 605.20 792.70 607.50 C795.77 609.80 793.63 608.47 797.30 612.10 C800.97 615.73 801.57 616.30 803.70 618.40" fill="none" stroke="#000" stroke-width="1.7" stroke-linejoin="round"/>
<path d="M544.70 554.70 L550.19 551.38 L553.20 549.56 M561.50 544.55 L563.18 543.53 L567.18 541.12 L570.00 539.41 M578.30 534.39 L581.66 532.37 L586.80 529.26 M595.10 524.24 L595.85 523.78 L603.60 519.10 M611.90 514.08 L616.00 511.60 L620.40 508.94 M628.70 503.92 L635.78 499.65 L637.20 498.79 M645.50 493.78 L649.17 491.57 L654.00 488.66 M662.30 483.66 L662.59 483.48 L666.50 481.12 L670.63 478.61 L670.80 478.51 M679.10 473.46 L680.78 472.44 L687.40 468.40 L687.60 468.28 M695.70 463.32 L697.92 461.96 L700.59 460.30 L701.97 459.44 L702.35 459.17 L702.05 459.31 L701.39 459.68 L700.67 460.07 L700.21 460.31 L700.32 460.21 L701.31 459.57 L703.50 458.20 L704.10 457.82 M711.60 452.79 L711.65 452.75 L712.49 452.15 L713.34 451.57 L714.34 450.95 L715.59 450.23 L717.22 449.36 L719.35 448.27 L721.60 447.15 M730.20 443.20 L730.84 442.97 L731.69 442.71 L732.52 442.49 L733.46 442.26 L734.63 441.94 L736.14 441.48 L738.13 440.82 L740.20 440.08 M748.90 436.81 L748.91 436.80 L749.67 436.51 L750.39 436.25 L751.17 435.97 L752.11 435.66 L753.33 435.26 L754.92 434.76 L757.00 434.10 L758.00 433.78 M766.30 431.53 L767.40 431.32 L769.00 431.00 L770.62 430.66 L771.85 430.40 L772.77 430.20 L773.44 430.04 L773.96 429.94 L774.38 429.86 L774.77 429.81 L775.22 429.78 L775.80 429.75 L776.30 429.73 M787.20 429.90 L788.00 430.00 L789.29 430.16 L790.28 430.28 L791.02 430.38 L791.58 430.46 L792.01 430.53 L792.38 430.61 L792.74 430.71 L793.16 430.83 L793.69 430.99 L794.40 431.20 L795.35 431.46 L795.40 431.48 M804.50 434.29 L805.00 434.50 L806.20 435.02 L807.12 435.43 L807.82 435.76 L808.35 436.02 L808.76 436.25 L809.11 436.46 L809.45 436.69 L809.84 436.94 L810.32 437.26 L810.96 437.66 L811.80 438.16 L812.90 438.80 L814.00 439.42 L814.10 439.47 M820.50 443.32 L821.02 443.66 L821.78 444.12 L822.34 444.43 L822.75 444.63 L823.06 444.78 L823.32 444.91 L823.60 445.08 L823.93 445.33 L824.37 445.71 L824.98 446.27 L825.80 447.05 L826.90 448.10 L827.30 448.49 M832.10 453.76 L832.32 454.04 L832.81 454.68 L833.30 455.31 L833.81 455.97 L834.37 456.66 L835.00 457.40" fill="none" stroke="#000" stroke-width="1.7" stroke-linejoin="round"/>
<path d="M697.00 571.00 L839.70 485.00" fill="none" stroke="#18f038" stroke-width="2.30" stroke-dasharray="0.1 6.2" stroke-linecap="round"/>
<path d="M646.50 571.00 L839.70 455.80" fill="none" stroke="#ff1c00" stroke-width="2.30" stroke-dasharray="0.1 6.2" stroke-linecap="round"/>
<path d="M601.40 571.00 L839.70 429.30" fill="none" stroke="#18f038" stroke-width="1.85" stroke-linecap="butt"/>
<path d="M612.80 571.00 L839.70 435.20" fill="none" stroke="#ff1c00" stroke-width="1.85" stroke-linecap="butt"/>
<path d="M630.90 571.00 L839.70 446.20" fill="none" stroke="#18f038" stroke-width="1.85" stroke-linecap="butt"/>
<path d="M640.80 571.00 L839.70 452.00" fill="none" stroke="#ff1c00" stroke-width="1.85" stroke-linecap="butt"/>
<path d="M544.70 562.30 L561.70 552.20 M570.50 546.90 L587.10 537.00 M595.90 531.70 L612.40 521.90 M621.20 516.60 L637.40 507.00 M646.60 501.30 C648.47 500.50 649.55 500.73 653.60 498.30 C657.65 495.87 659.61 493.83 661.80 492.20 M672.20 486.40 C676.55 484.59 682.95 481.87 688.50 479.60 C694.05 477.33 691.80 478.35 693.00 477.90 M700.00 473.10 L715.10 467.30 M725.60 463.10 C726.77 462.67 728.03 461.79 730.00 461.50 C731.97 461.21 731.67 462.53 733.00 462.00 C734.33 461.47 732.63 460.27 735.00 459.50 C737.37 458.73 740.06 459.21 741.90 459.10 M752.40 455.60 C754.96 455.04 758.37 453.79 762.00 453.50 C765.63 453.21 764.13 454.69 766.00 454.50 C767.87 454.31 767.40 452.93 769.00 452.80 C770.60 452.67 770.13 454.11 772.00 454.00 C773.87 453.89 772.85 452.91 776.00 452.40 C779.15 451.89 781.72 452.18 783.80 452.10 M795.50 452.10 C799.85 451.67 803.75 451.43 811.80 450.50 C819.85 449.57 821.99 449.11 825.70 448.60 M832.70 446.30 L839.70 444.00" fill="none" stroke="#ff1c00" stroke-width="1.85" stroke-linecap="butt" stroke-linejoin="round"/>
<path d="M601.40 571.00 L616.60 561.50 M626.80 556.50 C629.25 555.43 631.44 554.31 636.00 552.50 C640.56 550.69 641.79 550.45 643.90 549.70 M653.50 543.80 C654.17 544.12 654.80 544.76 656.00 545.00 C657.20 545.24 654.61 546.73 658.00 544.70 C661.39 542.67 665.85 539.35 668.70 537.40 M676.90 530.50 C677.73 530.58 678.11 531.09 680.00 530.80 C681.89 530.51 681.25 530.68 684.00 529.40 C686.75 528.12 688.62 526.91 690.30 526.00 M703.50 517.30 L720.90 511.50 M729.10 508.00 C731.58 507.39 733.76 506.77 738.40 505.70 C743.04 504.63 744.34 504.45 746.50 504.00 M758.20 499.40 C762.55 498.60 768.90 496.91 774.50 496.40 C780.10 495.89 775.79 497.82 779.20 497.50 C782.61 497.18 785.14 495.81 787.30 495.20 M796.60 493.30 L823.40 485.90 M831.50 482.40 L839.70 478.40" fill="none" stroke="#18f038" stroke-width="1.85" stroke-linecap="butt" stroke-linejoin="round"/>
</g>
<path d="M108.70 17.30 H403.50 V259.10 H108.70 Z M144.46 259.10 v-2.40 M144.46 17.30 v2.40 M165.38 259.10 v-2.40 M165.38 17.30 v2.40 M180.22 259.10 v-2.40 M180.22 17.30 v2.40 M191.74 259.10 v-2.40 M191.74 17.30 v2.40 M201.14 259.10 v-2.40 M201.14 17.30 v2.40 M209.10 259.10 v-2.40 M209.10 17.30 v2.40 M215.99 259.10 v-2.40 M215.99 17.30 v2.40 M222.06 259.10 v-2.40 M222.06 17.30 v2.40 M227.50 259.10 v-4.80 M227.50 17.30 v4.80 M263.26 259.10 v-2.40 M263.26 17.30 v2.40 M284.18 259.10 v-2.40 M284.18 17.30 v2.40 M299.02 259.10 v-2.40 M299.02 17.30 v2.40 M310.54 259.10 v-2.40 M310.54 17.30 v2.40 M319.94 259.10 v-2.40 M319.94 17.30 v2.40 M327.90 259.10 v-2.40 M327.90 17.30 v2.40 M334.79 259.10 v-2.40 M334.79 17.30 v2.40 M340.86 259.10 v-2.40 M340.86 17.30 v2.40 M346.30 259.10 v-4.80 M346.30 17.30 v4.80 M382.06 259.10 v-2.40 M382.06 17.30 v2.40 M402.98 259.10 v-2.40 M402.98 17.30 v2.40 M108.70 240.90 h3.00 M403.50 240.90 h-3.00 M108.70 230.26 h3.00 M403.50 230.26 h-3.00 M108.70 222.71 h3.00 M403.50 222.71 h-3.00 M108.70 216.85 h3.00 M403.50 216.85 h-3.00 M108.70 212.06 h3.00 M403.50 212.06 h-3.00 M108.70 208.01 h3.00 M403.50 208.01 h-3.00 M108.70 204.51 h3.00 M403.50 204.51 h-3.00 M108.70 201.42 h3.00 M403.50 201.42 h-3.00 M108.70 198.65 h6.00 M403.50 198.65 h-6.00 M108.70 180.45 h3.00 M403.50 180.45 h-3.00 M108.70 169.81 h3.00 M403.50 169.81 h-3.00 M108.70 162.26 h3.00 M403.50 162.26 h-3.00 M108.70 156.40 h3.00 M403.50 156.40 h-3.00 M108.70 151.61 h3.00 M403.50 151.61 h-3.00 M108.70 147.56 h3.00 M403.50 147.56 h-3.00 M108.70 144.06 h3.00 M403.50 144.06 h-3.00 M108.70 140.97 h3.00 M403.50 140.97 h-3.00 M108.70 138.20 h6.00 M403.50 138.20 h-6.00 M108.70 120.00 h3.00 M403.50 120.00 h-3.00 M108.70 109.36 h3.00 M403.50 109.36 h-3.00 M108.70 101.81 h3.00 M403.50 101.81 h-3.00 M108.70 95.95 h3.00 M403.50 95.95 h-3.00 M108.70 91.16 h3.00 M403.50 91.16 h-3.00 M108.70 87.11 h3.00 M403.50 87.11 h-3.00 M108.70 83.61 h3.00 M403.50 83.61 h-3.00 M108.70 80.52 h3.00 M403.50 80.52 h-3.00 M108.70 77.75 h6.00 M403.50 77.75 h-6.00 M108.70 59.55 h3.00 M403.50 59.55 h-3.00 M108.70 48.91 h3.00 M403.50 48.91 h-3.00 M108.70 41.36 h3.00 M403.50 41.36 h-3.00 M108.70 35.50 h3.00 M403.50 35.50 h-3.00 M108.70 30.71 h3.00 M403.50 30.71 h-3.00 M108.70 26.66 h3.00 M403.50 26.66 h-3.00 M108.70 23.16 h3.00 M403.50 23.16 h-3.00 M108.70 20.07 h3.00 M403.50 20.07 h-3.00" fill="none" stroke="#464646" stroke-width="1.00"/>
<path d="M100.69 275.48 L101.84 274.90 L103.55 273.19 L103.55 285.20 M113.85 273.19 L112.13 273.76 L110.99 275.48 L110.42 278.34 L110.42 280.05 L110.99 282.91 L112.13 284.63 L113.85 285.20 L114.99 285.20 L116.71 284.63 L117.85 282.91 L118.42 280.05 L118.42 278.34 L117.85 275.48 L116.71 273.76 L114.99 273.19 L113.85 273.19 M213.77 275.48 L214.92 274.90 L216.63 273.19 L216.63 285.20 M226.93 273.19 L225.21 273.76 L224.07 275.48 L223.50 278.34 L223.50 280.05 L224.07 282.91 L225.21 284.63 L226.93 285.20 L228.07 285.20 L229.79 284.63 L230.93 282.91 L231.50 280.05 L231.50 278.34 L230.93 275.48 L229.79 273.76 L228.07 273.19 L226.93 273.19 M238.37 273.19 L236.65 273.76 L235.51 275.48 L234.94 278.34 L234.94 280.05 L235.51 282.91 L236.65 284.63 L238.37 285.20 L239.51 285.20 L241.23 284.63 L242.37 282.91 L242.94 280.05 L242.94 278.34 L242.37 275.48 L241.23 273.76 L239.51 273.19 L238.37 273.19 M326.85 275.48 L328.00 274.90 L329.71 273.19 L329.71 285.20 M340.01 273.19 L338.29 273.76 L337.15 275.48 L336.58 278.34 L336.58 280.05 L337.15 282.91 L338.29 284.63 L340.01 285.20 L341.15 285.20 L342.87 284.63 L344.01 282.91 L344.58 280.05 L344.58 278.34 L344.01 275.48 L342.87 273.76 L341.15 273.19 L340.01 273.19 M351.45 273.19 L349.73 273.76 L348.59 275.48 L348.02 278.34 L348.02 280.05 L348.59 282.91 L349.73 284.63 L351.45 285.20 L352.59 285.20 L354.31 284.63 L355.45 282.91 L356.02 280.05 L356.02 278.34 L355.45 275.48 L354.31 273.76 L352.59 273.19 L351.45 273.19 M362.89 273.19 L361.17 273.76 L360.03 275.48 L359.46 278.34 L359.46 280.05 L360.03 282.91 L361.17 284.63 L362.89 285.20 L364.03 285.20 L365.75 284.63 L366.89 282.91 L367.46 280.05 L367.46 278.34 L366.89 275.48 L365.75 273.76 L364.03 273.19 L362.89 273.19 M255.50 295.69 L255.50 307.70 M95.19 249.28 L96.34 248.70 L98.05 246.99 L98.05 259.00 M83.75 195.83 L84.90 195.25 L86.61 193.54 L86.61 205.55 M96.91 193.54 L95.19 194.11 L94.05 195.83 L93.48 198.69 L93.48 200.40 L94.05 203.26 L95.19 204.98 L96.91 205.55 L98.05 205.55 L99.77 204.98 L100.91 203.26 L101.48 200.40 L101.48 198.69 L100.91 195.83 L99.77 194.11 L98.05 193.54 L96.91 193.54 M72.31 135.38 L73.46 134.80 L75.17 133.09 L75.17 145.10 M85.47 133.09 L83.75 133.66 L82.61 135.38 L82.04 138.24 L82.04 139.95 L82.61 142.81 L83.75 144.53 L85.47 145.10 L86.61 145.10 L88.33 144.53 L89.47 142.81 L90.04 139.95 L90.04 138.24 L89.47 135.38 L88.33 133.66 L86.61 133.09 L85.47 133.09 M96.91 133.09 L95.19 133.66 L94.05 135.38 L93.48 138.24 L93.48 139.95 L94.05 142.81 L95.19 144.53 L96.91 145.10 L98.05 145.10 L99.77 144.53 L100.91 142.81 L101.48 139.95 L101.48 138.24 L100.91 135.38 L99.77 133.66 L98.05 133.09 L96.91 133.09 M60.87 74.93 L62.02 74.35 L63.73 72.64 L63.73 84.65 M74.03 72.64 L72.31 73.21 L71.17 74.93 L70.60 77.79 L70.60 79.50 L71.17 82.36 L72.31 84.08 L74.03 84.65 L75.17 84.65 L76.89 84.08 L78.03 82.36 L78.60 79.50 L78.60 77.79 L78.03 74.93 L76.89 73.21 L75.17 72.64 L74.03 72.64 M85.47 72.64 L83.75 73.21 L82.61 74.93 L82.04 77.79 L82.04 79.50 L82.61 82.36 L83.75 84.08 L85.47 84.65 L86.61 84.65 L88.33 84.08 L89.47 82.36 L90.04 79.50 L90.04 77.79 L89.47 74.93 L88.33 73.21 L86.61 72.64 L85.47 72.64 M96.91 72.64 L95.19 73.21 L94.05 74.93 L93.48 77.79 L93.48 79.50 L94.05 82.36 L95.19 84.08 L96.91 84.65 L98.05 84.65 L99.77 84.08 L100.91 82.36 L101.48 79.50 L101.48 77.79 L100.91 74.93 L99.77 73.21 L98.05 72.64 L96.91 72.64 M49.43 19.98 L50.58 19.40 L52.29 17.69 L52.29 29.70 M62.59 17.69 L60.87 18.26 L59.73 19.98 L59.16 22.84 L59.16 24.55 L59.73 27.41 L60.87 29.13 L62.59 29.70 L63.73 29.70 L65.45 29.13 L66.59 27.41 L67.16 24.55 L67.16 22.84 L66.59 19.98 L65.45 18.26 L63.73 17.69 L62.59 17.69 M74.03 17.69 L72.31 18.26 L71.17 19.98 L70.60 22.84 L70.60 24.55 L71.17 27.41 L72.31 29.13 L74.03 29.70 L75.17 29.70 L76.89 29.13 L78.03 27.41 L78.60 24.55 L78.60 22.84 L78.03 19.98 L76.89 18.26 L75.17 17.69 L74.03 17.69 M85.47 17.69 L83.75 18.26 L82.61 19.98 L82.04 22.84 L82.04 24.55 L82.61 27.41 L83.75 29.13 L85.47 29.70 L86.61 29.70 L88.33 29.13 L89.47 27.41 L90.04 24.55 L90.04 22.84 L89.47 19.98 L88.33 18.26 L86.61 17.69 L85.47 17.69 M96.91 17.69 L95.19 18.26 L94.05 19.98 L93.48 22.84 L93.48 24.55 L94.05 27.41 L95.19 29.13 L96.91 29.70 L98.05 29.70 L99.77 29.13 L100.91 27.41 L101.48 24.55 L101.48 22.84 L100.91 19.98 L99.77 18.26 L98.05 17.69 L96.91 17.69" fill="none" stroke="#555555" stroke-width="1.05" stroke-linecap="round" stroke-linejoin="round"/>
<path transform="translate(29.40 225.29) rotate(-90)" d="M2.29 -12.01 L2.29 0.00 M10.87 -14.30 L9.72 -13.16 L8.58 -11.44 L7.44 -9.15 L6.86 -6.29 L6.86 -4.00 L7.44 -1.14 L8.58 1.14 L9.72 2.86 L10.87 4.00 M14.87 -12.01 L14.87 0.00 M24.60 -9.90 L24.60 -0.40 M19.85 -5.15 L29.34 -5.15 M35.46 -9.72 L36.61 -10.30 L38.32 -12.01 L38.32 0.00 M45.19 -14.30 L46.33 -13.16 L47.48 -11.44 L48.62 -9.15 L49.19 -6.29 L49.19 -4.00 L48.62 -1.14 L47.48 1.14 L46.33 2.86 L45.19 4.00 M70.93 -9.15 L70.36 -10.30 L69.21 -11.44 L68.07 -12.01 L65.78 -12.01 L64.64 -11.44 L63.49 -10.30 L62.92 -9.15 L62.35 -7.44 L62.35 -4.58 L62.92 -2.86 L63.49 -1.72 L64.64 -0.57 L65.78 0.00 L68.07 0.00 L69.21 -0.57 L70.36 -1.72 L70.93 -2.86 M75.48 -16.31 L75.48 -8.87 M73.00 -16.31 L77.96 -16.31 M79.74 -3.44 L79.74 4.00 M92.60 -14.30 L82.30 4.00 M96.03 -9.15 L96.03 -9.72 L96.60 -10.87 L97.17 -11.44 L98.32 -12.01 L100.60 -12.01 L101.75 -11.44 L102.32 -10.87 L102.89 -9.72 L102.89 -8.58 L102.32 -7.44 L101.18 -5.72 L95.46 0.00 L103.46 0.00 M110.33 -8.01 L108.04 0.00 M113.19 -8.01 L113.76 -4.58 L114.33 -1.72 L114.90 0.00 M106.32 -6.29 L107.47 -7.44 L109.18 -8.01 L116.62 -8.01 M129.20 -14.30 L129.20 4.00 M129.78 -14.30 L129.78 4.00 M129.20 -14.30 L133.21 -14.30 M129.20 4.00 L133.21 4.00 M138.93 -8.01 L135.50 4.00 M138.36 -5.72 L137.78 -2.86 L137.78 -1.14 L138.93 0.00 L140.07 0.00 L141.22 -0.57 L142.36 -1.72 L143.50 -4.00 M144.65 -8.01 L143.50 -4.00 L142.93 -1.72 L142.93 -0.57 L143.50 0.00 L144.65 0.00 L145.79 -1.14 L146.36 -2.29 M149.22 -12.01 L149.22 0.00 M157.23 -12.01 L149.22 -4.00 M152.08 -6.86 L157.23 0.00 M160.05 -12.00 L160.05 -12.28 L160.32 -12.82 L160.59 -13.10 L161.14 -13.37 L162.24 -13.37 L162.79 -13.10 L163.07 -12.82 L163.34 -12.28 L163.34 -11.73 L163.07 -11.18 L162.52 -10.35 L159.77 -7.61 L163.61 -7.61 M169.59 -14.30 L169.59 4.00 M170.16 -14.30 L170.16 4.00 M166.15 -14.30 L170.16 -14.30 M166.15 4.00 L170.16 4.00" fill="none" stroke="#555555" stroke-width="1.05" stroke-linecap="round" stroke-linejoin="round"/>
<path d="M544.70 17.30 H839.50 V259.10 H544.70 Z M580.46 259.10 v-2.40 M580.46 17.30 v2.40 M601.38 259.10 v-2.40 M601.38 17.30 v2.40 M616.22 259.10 v-2.40 M616.22 17.30 v2.40 M627.74 259.10 v-2.40 M627.74 17.30 v2.40 M637.14 259.10 v-2.40 M637.14 17.30 v2.40 M645.10 259.10 v-2.40 M645.10 17.30 v2.40 M651.99 259.10 v-2.40 M651.99 17.30 v2.40 M658.06 259.10 v-2.40 M658.06 17.30 v2.40 M663.50 259.10 v-4.80 M663.50 17.30 v4.80 M699.26 259.10 v-2.40 M699.26 17.30 v2.40 M720.18 259.10 v-2.40 M720.18 17.30 v2.40 M735.02 259.10 v-2.40 M735.02 17.30 v2.40 M746.54 259.10 v-2.40 M746.54 17.30 v2.40 M755.94 259.10 v-2.40 M755.94 17.30 v2.40 M763.90 259.10 v-2.40 M763.90 17.30 v2.40 M770.79 259.10 v-2.40 M770.79 17.30 v2.40 M776.86 259.10 v-2.40 M776.86 17.30 v2.40 M782.30 259.10 v-4.80 M782.30 17.30 v4.80 M818.06 259.10 v-2.40 M818.06 17.30 v2.40 M838.98 259.10 v-2.40 M838.98 17.30 v2.40 M544.70 240.90 h3.00 M839.50 240.90 h-3.00 M544.70 230.26 h3.00 M839.50 230.26 h-3.00 M544.70 222.71 h3.00 M839.50 222.71 h-3.00 M544.70 216.85 h3.00 M839.50 216.85 h-3.00 M544.70 212.06 h3.00 M839.50 212.06 h-3.00 M544.70 208.01 h3.00 M839.50 208.01 h-3.00 M544.70 204.51 h3.00 M839.50 204.51 h-3.00 M544.70 201.42 h3.00 M839.50 201.42 h-3.00 M544.70 198.65 h6.00 M839.50 198.65 h-6.00 M544.70 180.45 h3.00 M839.50 180.45 h-3.00 M544.70 169.81 h3.00 M839.50 169.81 h-3.00 M544.70 162.26 h3.00 M839.50 162.26 h-3.00 M544.70 156.40 h3.00 M839.50 156.40 h-3.00 M544.70 151.61 h3.00 M839.50 151.61 h-3.00 M544.70 147.56 h3.00 M839.50 147.56 h-3.00 M544.70 144.06 h3.00 M839.50 144.06 h-3.00 M544.70 140.97 h3.00 M839.50 140.97 h-3.00 M544.70 138.20 h6.00 M839.50 138.20 h-6.00 M544.70 120.00 h3.00 M839.50 120.00 h-3.00 M544.70 109.36 h3.00 M839.50 109.36 h-3.00 M544.70 101.81 h3.00 M839.50 101.81 h-3.00 M544.70 95.95 h3.00 M839.50 95.95 h-3.00 M544.70 91.16 h3.00 M839.50 91.16 h-3.00 M544.70 87.11 h3.00 M839.50 87.11 h-3.00 M544.70 83.61 h3.00 M839.50 83.61 h-3.00 M544.70 80.52 h3.00 M839.50 80.52 h-3.00 M544.70 77.75 h6.00 M839.50 77.75 h-6.00 M544.70 59.55 h3.00 M839.50 59.55 h-3.00 M544.70 48.91 h3.00 M839.50 48.91 h-3.00 M544.70 41.36 h3.00 M839.50 41.36 h-3.00 M544.70 35.50 h3.00 M839.50 35.50 h-3.00 M544.70 30.71 h3.00 M839.50 30.71 h-3.00 M544.70 26.66 h3.00 M839.50 26.66 h-3.00 M544.70 23.16 h3.00 M839.50 23.16 h-3.00 M544.70 20.07 h3.00 M839.50 20.07 h-3.00" fill="none" stroke="#464646" stroke-width="1.00"/>
<path d="M536.69 275.48 L537.84 274.90 L539.55 273.19 L539.55 285.20 M549.85 273.19 L548.13 273.76 L546.99 275.48 L546.42 278.34 L546.42 280.05 L546.99 282.91 L548.13 284.63 L549.85 285.20 L550.99 285.20 L552.71 284.63 L553.85 282.91 L554.42 280.05 L554.42 278.34 L553.85 275.48 L552.71 273.76 L550.99 273.19 L549.85 273.19 M649.77 275.48 L650.92 274.90 L652.63 273.19 L652.63 285.20 M662.93 273.19 L661.21 273.76 L660.07 275.48 L659.50 278.34 L659.50 280.05 L660.07 282.91 L661.21 284.63 L662.93 285.20 L664.07 285.20 L665.79 284.63 L666.93 282.91 L667.50 280.05 L667.50 278.34 L666.93 275.48 L665.79 273.76 L664.07 273.19 L662.93 273.19 M674.37 273.19 L672.65 273.76 L671.51 275.48 L670.94 278.34 L670.94 280.05 L671.51 282.91 L672.65 284.63 L674.37 285.20 L675.51 285.20 L677.23 284.63 L678.37 282.91 L678.94 280.05 L678.94 278.34 L678.37 275.48 L677.23 273.76 L675.51 273.19 L674.37 273.19 M762.85 275.48 L764.00 274.90 L765.71 273.19 L765.71 285.20 M776.01 273.19 L774.29 273.76 L773.15 275.48 L772.58 278.34 L772.58 280.05 L773.15 282.91 L774.29 284.63 L776.01 285.20 L777.15 285.20 L778.87 284.63 L780.01 282.91 L780.58 280.05 L780.58 278.34 L780.01 275.48 L778.87 273.76 L777.15 273.19 L776.01 273.19 M787.45 273.19 L785.73 273.76 L784.59 275.48 L784.02 278.34 L784.02 280.05 L784.59 282.91 L785.73 284.63 L787.45 285.20 L788.59 285.20 L790.31 284.63 L791.45 282.91 L792.02 280.05 L792.02 278.34 L791.45 275.48 L790.31 273.76 L788.59 273.19 L787.45 273.19 M798.89 273.19 L797.17 273.76 L796.03 275.48 L795.46 278.34 L795.46 280.05 L796.03 282.91 L797.17 284.63 L798.89 285.20 L800.03 285.20 L801.75 284.63 L802.89 282.91 L803.46 280.05 L803.46 278.34 L802.89 275.48 L801.75 273.76 L800.03 273.19 L798.89 273.19 M691.50 295.69 L691.50 307.70 M531.19 249.28 L532.34 248.70 L534.05 246.99 L534.05 259.00 M519.75 195.83 L520.90 195.25 L522.61 193.54 L522.61 205.55 M532.91 193.54 L531.19 194.11 L530.05 195.83 L529.48 198.69 L529.48 200.40 L530.05 203.26 L531.19 204.98 L532.91 205.55 L534.05 205.55 L535.77 204.98 L536.91 203.26 L537.48 200.40 L537.48 198.69 L536.91 195.83 L535.77 194.11 L534.05 193.54 L532.91 193.54 M508.31 135.38 L509.46 134.80 L511.17 133.09 L511.17 145.10 M521.47 133.09 L519.75 133.66 L518.61 135.38 L518.04 138.24 L518.04 139.95 L518.61 142.81 L519.75 144.53 L521.47 145.10 L522.61 145.10 L524.33 144.53 L525.47 142.81 L526.04 139.95 L526.04 138.24 L525.47 135.38 L524.33 133.66 L522.61 133.09 L521.47 133.09 M532.91 133.09 L531.19 133.66 L530.05 135.38 L529.48 138.24 L529.48 139.95 L530.05 142.81 L531.19 144.53 L532.91 145.10 L534.05 145.10 L535.77 144.53 L536.91 142.81 L537.48 139.95 L537.48 138.24 L536.91 135.38 L535.77 133.66 L534.05 133.09 L532.91 133.09 M496.87 74.93 L498.02 74.35 L499.73 72.64 L499.73 84.65 M510.03 72.64 L508.31 73.21 L507.17 74.93 L506.60 77.79 L506.60 79.50 L507.17 82.36 L508.31 84.08 L510.03 84.65 L511.17 84.65 L512.89 84.08 L514.03 82.36 L514.60 79.50 L514.60 77.79 L514.03 74.93 L512.89 73.21 L511.17 72.64 L510.03 72.64 M521.47 72.64 L519.75 73.21 L518.61 74.93 L518.04 77.79 L518.04 79.50 L518.61 82.36 L519.75 84.08 L521.47 84.65 L522.61 84.65 L524.33 84.08 L525.47 82.36 L526.04 79.50 L526.04 77.79 L525.47 74.93 L524.33 73.21 L522.61 72.64 L521.47 72.64 M532.91 72.64 L531.19 73.21 L530.05 74.93 L529.48 77.79 L529.48 79.50 L530.05 82.36 L531.19 84.08 L532.91 84.65 L534.05 84.65 L535.77 84.08 L536.91 82.36 L537.48 79.50 L537.48 77.79 L536.91 74.93 L535.77 73.21 L534.05 72.64 L532.91 72.64 M485.43 19.98 L486.58 19.40 L488.29 17.69 L488.29 29.70 M498.59 17.69 L496.87 18.26 L495.73 19.98 L495.16 22.84 L495.16 24.55 L495.73 27.41 L496.87 29.13 L498.59 29.70 L499.73 29.70 L501.45 29.13 L502.59 27.41 L503.16 24.55 L503.16 22.84 L502.59 19.98 L501.45 18.26 L499.73 17.69 L498.59 17.69 M510.03 17.69 L508.31 18.26 L507.17 19.98 L506.60 22.84 L506.60 24.55 L507.17 27.41 L508.31 29.13 L510.03 29.70 L511.17 29.70 L512.89 29.13 L514.03 27.41 L514.60 24.55 L514.60 22.84 L514.03 19.98 L512.89 18.26 L511.17 17.69 L510.03 17.69 M521.47 17.69 L519.75 18.26 L518.61 19.98 L518.04 22.84 L518.04 24.55 L518.61 27.41 L519.75 29.13 L521.47 29.70 L522.61 29.70 L524.33 29.13 L525.47 27.41 L526.04 24.55 L526.04 22.84 L525.47 19.98 L524.33 18.26 L522.61 17.69 L521.47 17.69 M532.91 17.69 L531.19 18.26 L530.05 19.98 L529.48 22.84 L529.48 24.55 L530.05 27.41 L531.19 29.13 L532.91 29.70 L534.05 29.70 L535.77 29.13 L536.91 27.41 L537.48 24.55 L537.48 22.84 L536.91 19.98 L535.77 18.26 L534.05 17.69 L532.91 17.69" fill="none" stroke="#555555" stroke-width="1.05" stroke-linecap="round" stroke-linejoin="round"/>
<path transform="translate(465.40 225.29) rotate(-90)" d="M2.29 -12.01 L2.29 0.00 M10.87 -14.30 L9.72 -13.16 L8.58 -11.44 L7.44 -9.15 L6.86 -6.29 L6.86 -4.00 L7.44 -1.14 L8.58 1.14 L9.72 2.86 L10.87 4.00 M14.87 -12.01 L14.87 0.00 M24.60 -9.90 L24.60 -0.40 M19.85 -5.15 L29.34 -5.15 M35.46 -9.72 L36.61 -10.30 L38.32 -12.01 L38.32 0.00 M45.19 -14.30 L46.33 -13.16 L47.48 -11.44 L48.62 -9.15 L49.19 -6.29 L49.19 -4.00 L48.62 -1.14 L47.48 1.14 L46.33 2.86 L45.19 4.00 M70.93 -9.15 L70.36 -10.30 L69.21 -11.44 L68.07 -12.01 L65.78 -12.01 L64.64 -11.44 L63.49 -10.30 L62.92 -9.15 L62.35 -7.44 L62.35 -4.58 L62.92 -2.86 L63.49 -1.72 L64.64 -0.57 L65.78 0.00 L68.07 0.00 L69.21 -0.57 L70.36 -1.72 L70.93 -2.86 M75.48 -16.31 L75.48 -8.87 M73.00 -16.31 L77.96 -16.31 M79.74 -3.44 L79.74 4.00 M92.60 -14.30 L82.30 4.00 M96.03 -9.15 L96.03 -9.72 L96.60 -10.87 L97.17 -11.44 L98.32 -12.01 L100.60 -12.01 L101.75 -11.44 L102.32 -10.87 L102.89 -9.72 L102.89 -8.58 L102.32 -7.44 L101.18 -5.72 L95.46 0.00 L103.46 0.00 M110.33 -8.01 L108.04 0.00 M113.19 -8.01 L113.76 -4.58 L114.33 -1.72 L114.90 0.00 M106.32 -6.29 L107.47 -7.44 L109.18 -8.01 L116.62 -8.01 M129.20 -14.30 L129.20 4.00 M129.78 -14.30 L129.78 4.00 M129.20 -14.30 L133.21 -14.30 M129.20 4.00 L133.21 4.00 M138.93 -8.01 L135.50 4.00 M138.36 -5.72 L137.78 -2.86 L137.78 -1.14 L138.93 0.00 L140.07 0.00 L141.22 -0.57 L142.36 -1.72 L143.50 -4.00 M144.65 -8.01 L143.50 -4.00 L142.93 -1.72 L142.93 -0.57 L143.50 0.00 L144.65 0.00 L145.79 -1.14 L146.36 -2.29 M149.22 -12.01 L149.22 0.00 M157.23 -12.01 L149.22 -4.00 M152.08 -6.86 L157.23 0.00 M160.05 -12.00 L160.05 -12.28 L160.32 -12.82 L160.59 -13.10 L161.14 -13.37 L162.24 -13.37 L162.79 -13.10 L163.07 -12.82 L163.34 -12.28 L163.34 -11.73 L163.07 -11.18 L162.52 -10.35 L159.77 -7.61 L163.61 -7.61 M169.59 -14.30 L169.59 4.00 M170.16 -14.30 L170.16 4.00 M166.15 -14.30 L170.16 -14.30 M166.15 4.00 L170.16 4.00" fill="none" stroke="#555555" stroke-width="1.05" stroke-linecap="round" stroke-linejoin="round"/>
<path d="M108.70 328.70 H403.50 V571.00 H108.70 Z M144.46 571.00 v-2.40 M144.46 328.70 v2.40 M165.38 571.00 v-2.40 M165.38 328.70 v2.40 M180.22 571.00 v-2.40 M180.22 328.70 v2.40 M191.74 571.00 v-2.40 M191.74 328.70 v2.40 M201.14 571.00 v-2.40 M201.14 328.70 v2.40 M209.10 571.00 v-2.40 M209.10 328.70 v2.40 M215.99 571.00 v-2.40 M215.99 328.70 v2.40 M222.06 571.00 v-2.40 M222.06 328.70 v2.40 M227.50 571.00 v-4.80 M227.50 328.70 v4.80 M263.26 571.00 v-2.40 M263.26 328.70 v2.40 M284.18 571.00 v-2.40 M284.18 328.70 v2.40 M299.02 571.00 v-2.40 M299.02 328.70 v2.40 M310.54 571.00 v-2.40 M310.54 328.70 v2.40 M319.94 571.00 v-2.40 M319.94 328.70 v2.40 M327.90 571.00 v-2.40 M327.90 328.70 v2.40 M334.79 571.00 v-2.40 M334.79 328.70 v2.40 M340.86 571.00 v-2.40 M340.86 328.70 v2.40 M346.30 571.00 v-4.80 M346.30 328.70 v4.80 M382.06 571.00 v-2.40 M382.06 328.70 v2.40 M402.98 571.00 v-2.40 M402.98 328.70 v2.40 M108.70 535.20 h6.50 M403.50 535.20 h-6.50 M108.70 499.40 h6.50 M403.50 499.40 h-6.50 M108.70 463.60 h6.50 M403.50 463.60 h-6.50 M108.70 427.80 h6.50 M403.50 427.80 h-6.50 M108.70 392.00 h6.50 M403.50 392.00 h-6.50 M108.70 356.20 h6.50 M403.50 356.20 h-6.50" fill="none" stroke="#464646" stroke-width="1.00"/>
<path d="M100.69 587.38 L101.84 586.80 L103.55 585.09 L103.55 597.10 M113.85 585.09 L112.13 585.66 L110.99 587.38 L110.42 590.24 L110.42 591.95 L110.99 594.81 L112.13 596.53 L113.85 597.10 L114.99 597.10 L116.71 596.53 L117.85 594.81 L118.42 591.95 L118.42 590.24 L117.85 587.38 L116.71 585.66 L114.99 585.09 L113.85 585.09 M213.77 587.38 L214.92 586.80 L216.63 585.09 L216.63 597.10 M226.93 585.09 L225.21 585.66 L224.07 587.38 L223.50 590.24 L223.50 591.95 L224.07 594.81 L225.21 596.53 L226.93 597.10 L228.07 597.10 L229.79 596.53 L230.93 594.81 L231.50 591.95 L231.50 590.24 L230.93 587.38 L229.79 585.66 L228.07 585.09 L226.93 585.09 M238.37 585.09 L236.65 585.66 L235.51 587.38 L234.94 590.24 L234.94 591.95 L235.51 594.81 L236.65 596.53 L238.37 597.10 L239.51 597.10 L241.23 596.53 L242.37 594.81 L242.94 591.95 L242.94 590.24 L242.37 587.38 L241.23 585.66 L239.51 585.09 L238.37 585.09 M326.85 587.38 L328.00 586.80 L329.71 585.09 L329.71 597.10 M340.01 585.09 L338.29 585.66 L337.15 587.38 L336.58 590.24 L336.58 591.95 L337.15 594.81 L338.29 596.53 L340.01 597.10 L341.15 597.10 L342.87 596.53 L344.01 594.81 L344.58 591.95 L344.58 590.24 L344.01 587.38 L342.87 585.66 L341.15 585.09 L340.01 585.09 M351.45 585.09 L349.73 585.66 L348.59 587.38 L348.02 590.24 L348.02 591.95 L348.59 594.81 L349.73 596.53 L351.45 597.10 L352.59 597.10 L354.31 596.53 L355.45 594.81 L356.02 591.95 L356.02 590.24 L355.45 587.38 L354.31 585.66 L352.59 585.09 L351.45 585.09 M362.89 585.09 L361.17 585.66 L360.03 587.38 L359.46 590.24 L359.46 591.95 L360.03 594.81 L361.17 596.53 L362.89 597.10 L364.03 597.10 L365.75 596.53 L366.89 594.81 L367.46 591.95 L367.46 590.24 L366.89 587.38 L365.75 585.66 L364.03 585.09 L362.89 585.09 M255.50 607.59 L255.50 619.60 M41.42 561.18 L42.57 560.60 L44.28 558.89 L44.28 570.90 M52.29 569.76 L51.72 570.33 L52.29 570.90 L52.86 570.33 L52.29 569.76 M56.87 566.32 L63.73 566.32 L63.73 565.18 L63.16 564.04 L62.59 563.46 L61.44 562.89 L59.73 562.89 L58.58 563.46 L57.44 564.61 L56.87 566.32 L56.87 567.47 L57.44 569.18 L58.58 570.33 L59.73 570.90 L61.44 570.90 L62.59 570.33 L63.73 569.18 M68.14 565.75 L77.63 565.75 M85.47 558.89 L83.75 559.46 L82.61 561.18 L82.04 564.04 L82.04 565.75 L82.61 568.61 L83.75 570.33 L85.47 570.90 L86.61 570.90 L88.33 570.33 L89.47 568.61 L90.04 565.75 L90.04 564.04 L89.47 561.18 L88.33 559.46 L86.61 558.89 L85.47 558.89 M100.34 558.89 L94.62 558.89 L94.05 564.04 L94.62 563.46 L96.34 562.89 L98.05 562.89 L99.77 563.46 L100.91 564.61 L101.48 566.32 L101.48 567.47 L100.91 569.18 L99.77 570.33 L98.05 570.90 L96.34 570.90 L94.62 570.33 L94.05 569.76 L93.48 568.61 M41.42 532.38 L42.57 531.80 L44.28 530.09 L44.28 542.10 M52.29 540.96 L51.72 541.53 L52.29 542.10 L52.86 541.53 L52.29 540.96 M56.87 537.52 L63.73 537.52 L63.73 536.38 L63.16 535.24 L62.59 534.66 L61.44 534.09 L59.73 534.09 L58.58 534.66 L57.44 535.81 L56.87 537.52 L56.87 538.67 L57.44 540.38 L58.58 541.53 L59.73 542.10 L61.44 542.10 L62.59 541.53 L63.73 540.38 M68.14 536.95 L77.63 536.95 M85.47 530.09 L83.75 530.66 L82.61 532.38 L82.04 535.24 L82.04 536.95 L82.61 539.81 L83.75 541.53 L85.47 542.10 L86.61 542.10 L88.33 541.53 L89.47 539.81 L90.04 536.95 L90.04 535.24 L89.47 532.38 L88.33 530.66 L86.61 530.09 L85.47 530.09 M99.20 530.09 L93.48 538.10 L102.06 538.10 M99.20 530.09 L99.20 542.10 M41.42 496.58 L42.57 496.00 L44.28 494.29 L44.28 506.30 M52.29 505.16 L51.72 505.73 L52.29 506.30 L52.86 505.73 L52.29 505.16 M56.87 501.72 L63.73 501.72 L63.73 500.58 L63.16 499.44 L62.59 498.86 L61.44 498.29 L59.73 498.29 L58.58 498.86 L57.44 500.01 L56.87 501.72 L56.87 502.87 L57.44 504.58 L58.58 505.73 L59.73 506.30 L61.44 506.30 L62.59 505.73 L63.73 504.58 M68.14 501.15 L77.63 501.15 M85.47 494.29 L83.75 494.86 L82.61 496.58 L82.04 499.44 L82.04 501.15 L82.61 504.01 L83.75 505.73 L85.47 506.30 L86.61 506.30 L88.33 505.73 L89.47 504.01 L90.04 501.15 L90.04 499.44 L89.47 496.58 L88.33 494.86 L86.61 494.29 L85.47 494.29 M94.62 494.29 L100.91 494.29 L97.48 498.86 L99.20 498.86 L100.34 499.44 L100.91 500.01 L101.48 501.72 L101.48 502.87 L100.91 504.58 L99.77 505.73 L98.05 506.30 L96.34 506.30 L94.62 505.73 L94.05 505.16 L93.48 504.01 M41.42 460.78 L42.57 460.20 L44.28 458.49 L44.28 470.50 M52.29 469.36 L51.72 469.93 L52.29 470.50 L52.86 469.93 L52.29 469.36 M56.87 465.92 L63.73 465.92 L63.73 464.78 L63.16 463.64 L62.59 463.06 L61.44 462.49 L59.73 462.49 L58.58 463.06 L57.44 464.21 L56.87 465.92 L56.87 467.07 L57.44 468.78 L58.58 469.93 L59.73 470.50 L61.44 470.50 L62.59 469.93 L63.73 468.78 M68.14 465.35 L77.63 465.35 M85.47 458.49 L83.75 459.06 L82.61 460.78 L82.04 463.64 L82.04 465.35 L82.61 468.21 L83.75 469.93 L85.47 470.50 L86.61 470.50 L88.33 469.93 L89.47 468.21 L90.04 465.35 L90.04 463.64 L89.47 460.78 L88.33 459.06 L86.61 458.49 L85.47 458.49 M94.05 461.35 L94.05 460.78 L94.62 459.63 L95.19 459.06 L96.34 458.49 L98.62 458.49 L99.77 459.06 L100.34 459.63 L100.91 460.78 L100.91 461.92 L100.34 463.06 L99.20 464.78 L93.48 470.50 L101.48 470.50 M41.42 424.98 L42.57 424.40 L44.28 422.69 L44.28 434.70 M52.29 433.56 L51.72 434.13 L52.29 434.70 L52.86 434.13 L52.29 433.56 M56.87 430.12 L63.73 430.12 L63.73 428.98 L63.16 427.84 L62.59 427.26 L61.44 426.69 L59.73 426.69 L58.58 427.26 L57.44 428.41 L56.87 430.12 L56.87 431.27 L57.44 432.98 L58.58 434.13 L59.73 434.70 L61.44 434.70 L62.59 434.13 L63.73 432.98 M68.14 429.55 L77.63 429.55 M85.47 422.69 L83.75 423.26 L82.61 424.98 L82.04 427.84 L82.04 429.55 L82.61 432.41 L83.75 434.13 L85.47 434.70 L86.61 434.70 L88.33 434.13 L89.47 432.41 L90.04 429.55 L90.04 427.84 L89.47 424.98 L88.33 423.26 L86.61 422.69 L85.47 422.69 M95.19 424.98 L96.34 424.40 L98.05 422.69 L98.05 434.70 M41.42 389.18 L42.57 388.60 L44.28 386.89 L44.28 398.90 M52.29 397.76 L51.72 398.33 L52.29 398.90 L52.86 398.33 L52.29 397.76 M56.87 394.32 L63.73 394.32 L63.73 393.18 L63.16 392.04 L62.59 391.46 L61.44 390.89 L59.73 390.89 L58.58 391.46 L57.44 392.61 L56.87 394.32 L56.87 395.47 L57.44 397.18 L58.58 398.33 L59.73 398.90 L61.44 398.90 L62.59 398.33 L63.73 397.18 M72.88 389.00 L72.88 398.50 M68.14 393.75 L77.63 393.75 M85.47 386.89 L83.75 387.46 L82.61 389.18 L82.04 392.04 L82.04 393.75 L82.61 396.61 L83.75 398.33 L85.47 398.90 L86.61 398.90 L88.33 398.33 L89.47 396.61 L90.04 393.75 L90.04 392.04 L89.47 389.18 L88.33 387.46 L86.61 386.89 L85.47 386.89 M96.91 386.89 L95.19 387.46 L94.05 389.18 L93.48 392.04 L93.48 393.75 L94.05 396.61 L95.19 398.33 L96.91 398.90 L98.05 398.90 L99.77 398.33 L100.91 396.61 L101.48 393.75 L101.48 392.04 L100.91 389.18 L99.77 387.46 L98.05 386.89 L96.91 386.89 M41.42 353.38 L42.57 352.80 L44.28 351.09 L44.28 363.10 M52.29 361.96 L51.72 362.53 L52.29 363.10 L52.86 362.53 L52.29 361.96 M56.87 358.52 L63.73 358.52 L63.73 357.38 L63.16 356.24 L62.59 355.66 L61.44 355.09 L59.73 355.09 L58.58 355.66 L57.44 356.81 L56.87 358.52 L56.87 359.67 L57.44 361.38 L58.58 362.53 L59.73 363.10 L61.44 363.10 L62.59 362.53 L63.73 361.38 M72.88 353.20 L72.88 362.70 M68.14 357.95 L77.63 357.95 M85.47 351.09 L83.75 351.66 L82.61 353.38 L82.04 356.24 L82.04 357.95 L82.61 360.81 L83.75 362.53 L85.47 363.10 L86.61 363.10 L88.33 362.53 L89.47 360.81 L90.04 357.95 L90.04 356.24 L89.47 353.38 L88.33 351.66 L86.61 351.09 L85.47 351.09 M95.19 353.38 L96.34 352.80 L98.05 351.09 L98.05 363.10" fill="none" stroke="#555555" stroke-width="1.05" stroke-linecap="round" stroke-linejoin="round"/>
<path transform="translate(21.40 542.89) rotate(-90)" d="M2.29 -12.01 L2.29 0.00 M10.87 -14.30 L9.72 -13.16 L8.58 -11.44 L7.44 -9.15 L6.86 -6.29 L6.86 -4.00 L7.44 -1.14 L8.58 1.14 L9.72 2.86 L10.87 4.00 M14.87 -12.01 L14.87 0.00 M24.60 -9.90 L24.60 -0.40 M19.85 -5.15 L29.34 -5.15 M35.46 -9.72 L36.61 -10.30 L38.32 -12.01 L38.32 0.00 M45.19 -14.30 L46.33 -13.16 L47.48 -11.44 L48.62 -9.15 L49.19 -6.29 L49.19 -4.00 L48.62 -1.14 L47.48 1.14 L46.33 2.86 L45.19 4.00 M70.93 -9.15 L70.36 -10.30 L69.21 -11.44 L68.07 -12.01 L65.78 -12.01 L64.64 -11.44 L63.49 -10.30 L62.92 -9.15 L62.35 -7.44 L62.35 -4.58 L62.92 -2.86 L63.49 -1.72 L64.64 -0.57 L65.78 0.00 L68.07 0.00 L69.21 -0.57 L70.36 -1.72 L70.93 -2.86 M74.06 -16.31 L74.06 -8.87 M74.06 -16.31 L78.67 -16.31 M74.06 -12.77 L76.90 -12.77 M74.06 -8.87 L78.67 -8.87 M81.51 -9.22 L81.16 -8.87 L80.80 -9.22 L81.16 -9.58 L81.51 -9.22 L81.51 -8.51 L81.16 -7.80 L80.80 -7.45 M84.35 -16.31 L84.35 -8.87 M84.35 -16.31 L87.54 -16.31 L88.60 -15.96 L88.96 -15.60 L89.31 -14.89 L89.31 -14.19 L88.96 -13.48 L88.60 -13.12 L87.54 -12.77 M84.35 -12.77 L87.54 -12.77 L88.60 -12.41 L88.96 -12.06 L89.31 -11.35 L89.31 -10.28 L88.96 -9.58 L88.60 -9.22 L87.54 -8.87 L84.35 -8.87 M91.79 -3.44 L91.79 4.00 M104.65 -14.30 L94.36 4.00 M108.09 -9.15 L108.09 -9.72 L108.66 -10.87 L109.23 -11.44 L110.37 -12.01 L112.66 -12.01 L113.81 -11.44 L114.38 -10.87 L114.95 -9.72 L114.95 -8.58 L114.38 -7.44 L113.23 -5.72 L107.51 0.00 L115.52 0.00 M122.39 -8.01 L120.10 0.00 M125.25 -8.01 L125.82 -4.58 L126.39 -1.72 L126.96 0.00 M118.38 -6.29 L119.53 -7.44 L121.24 -8.01 L128.68 -8.01 M141.26 -14.30 L141.26 4.00 M141.83 -14.30 L141.83 4.00 M141.26 -14.30 L145.27 -14.30 M141.26 4.00 L145.27 4.00 M150.99 -8.01 L147.55 4.00 M150.41 -5.72 L149.84 -2.86 L149.84 -1.14 L150.99 0.00 L152.13 0.00 L153.27 -0.57 L154.42 -1.72 L155.56 -4.00 M156.71 -8.01 L155.56 -4.00 L154.99 -1.72 L154.99 -0.57 L155.56 0.00 L156.71 0.00 L157.85 -1.14 L158.42 -2.29 M161.28 -12.01 L161.28 0.00 M169.29 -12.01 L161.28 -4.00 M164.14 -6.86 L169.29 0.00 M172.10 -12.00 L172.10 -12.28 L172.38 -12.82 L172.65 -13.10 L173.20 -13.37 L174.30 -13.37 L174.85 -13.10 L175.12 -12.82 L175.40 -12.28 L175.40 -11.73 L175.12 -11.18 L174.57 -10.35 L171.83 -7.61 L175.67 -7.61 M181.64 -14.30 L181.64 4.00 M182.22 -14.30 L182.22 4.00 M178.21 -14.30 L182.22 -14.30 M178.21 4.00 L182.22 4.00" fill="none" stroke="#555555" stroke-width="1.05" stroke-linecap="round" stroke-linejoin="round"/>
<path d="M544.70 328.70 H839.50 V571.00 H544.70 Z M580.46 571.00 v-2.40 M580.46 328.70 v2.40 M601.38 571.00 v-2.40 M601.38 328.70 v2.40 M616.22 571.00 v-2.40 M616.22 328.70 v2.40 M627.74 571.00 v-2.40 M627.74 328.70 v2.40 M637.14 571.00 v-2.40 M637.14 328.70 v2.40 M645.10 571.00 v-2.40 M645.10 328.70 v2.40 M651.99 571.00 v-2.40 M651.99 328.70 v2.40 M658.06 571.00 v-2.40 M658.06 328.70 v2.40 M663.50 571.00 v-4.80 M663.50 328.70 v4.80 M699.26 571.00 v-2.40 M699.26 328.70 v2.40 M720.18 571.00 v-2.40 M720.18 328.70 v2.40 M735.02 571.00 v-2.40 M735.02 328.70 v2.40 M746.54 571.00 v-2.40 M746.54 328.70 v2.40 M755.94 571.00 v-2.40 M755.94 328.70 v2.40 M763.90 571.00 v-2.40 M763.90 328.70 v2.40 M770.79 571.00 v-2.40 M770.79 328.70 v2.40 M776.86 571.00 v-2.40 M776.86 328.70 v2.40 M782.30 571.00 v-4.80 M782.30 328.70 v4.80 M818.06 571.00 v-2.40 M818.06 328.70 v2.40 M838.98 571.00 v-2.40 M838.98 328.70 v2.40 M544.70 535.20 h6.50 M839.50 535.20 h-6.50 M544.70 499.40 h6.50 M839.50 499.40 h-6.50 M544.70 463.60 h6.50 M839.50 463.60 h-6.50 M544.70 427.80 h6.50 M839.50 427.80 h-6.50 M544.70 392.00 h6.50 M839.50 392.00 h-6.50 M544.70 356.20 h6.50 M839.50 356.20 h-6.50" fill="none" stroke="#464646" stroke-width="1.00"/>
<path d="M536.69 587.38 L537.84 586.80 L539.55 585.09 L539.55 597.10 M549.85 585.09 L548.13 585.66 L546.99 587.38 L546.42 590.24 L546.42 591.95 L546.99 594.81 L548.13 596.53 L549.85 597.10 L550.99 597.10 L552.71 596.53 L553.85 594.81 L554.42 591.95 L554.42 590.24 L553.85 587.38 L552.71 585.66 L550.99 585.09 L549.85 585.09 M649.77 587.38 L650.92 586.80 L652.63 585.09 L652.63 597.10 M662.93 585.09 L661.21 585.66 L660.07 587.38 L659.50 590.24 L659.50 591.95 L660.07 594.81 L661.21 596.53 L662.93 597.10 L664.07 597.10 L665.79 596.53 L666.93 594.81 L667.50 591.95 L667.50 590.24 L666.93 587.38 L665.79 585.66 L664.07 585.09 L662.93 585.09 M674.37 585.09 L672.65 585.66 L671.51 587.38 L670.94 590.24 L670.94 591.95 L671.51 594.81 L672.65 596.53 L674.37 597.10 L675.51 597.10 L677.23 596.53 L678.37 594.81 L678.94 591.95 L678.94 590.24 L678.37 587.38 L677.23 585.66 L675.51 585.09 L674.37 585.09 M762.85 587.38 L764.00 586.80 L765.71 585.09 L765.71 597.10 M776.01 585.09 L774.29 585.66 L773.15 587.38 L772.58 590.24 L772.58 591.95 L773.15 594.81 L774.29 596.53 L776.01 597.10 L777.15 597.10 L778.87 596.53 L780.01 594.81 L780.58 591.95 L780.58 590.24 L780.01 587.38 L778.87 585.66 L777.15 585.09 L776.01 585.09 M787.45 585.09 L785.73 585.66 L784.59 587.38 L784.02 590.24 L784.02 591.95 L784.59 594.81 L785.73 596.53 L787.45 597.10 L788.59 597.10 L790.31 596.53 L791.45 594.81 L792.02 591.95 L792.02 590.24 L791.45 587.38 L790.31 585.66 L788.59 585.09 L787.45 585.09 M798.89 585.09 L797.17 585.66 L796.03 587.38 L795.46 590.24 L795.46 591.95 L796.03 594.81 L797.17 596.53 L798.89 597.10 L800.03 597.10 L801.75 596.53 L802.89 594.81 L803.46 591.95 L803.46 590.24 L802.89 587.38 L801.75 585.66 L800.03 585.09 L798.89 585.09 M691.50 607.59 L691.50 619.60 M477.42 561.18 L478.57 560.60 L480.28 558.89 L480.28 570.90 M488.29 569.76 L487.72 570.33 L488.29 570.90 L488.86 570.33 L488.29 569.76 M492.87 566.32 L499.73 566.32 L499.73 565.18 L499.16 564.04 L498.59 563.46 L497.44 562.89 L495.73 562.89 L494.58 563.46 L493.44 564.61 L492.87 566.32 L492.87 567.47 L493.44 569.18 L494.58 570.33 L495.73 570.90 L497.44 570.90 L498.59 570.33 L499.73 569.18 M504.14 565.75 L513.63 565.75 M521.47 558.89 L519.75 559.46 L518.61 561.18 L518.04 564.04 L518.04 565.75 L518.61 568.61 L519.75 570.33 L521.47 570.90 L522.61 570.90 L524.33 570.33 L525.47 568.61 L526.04 565.75 L526.04 564.04 L525.47 561.18 L524.33 559.46 L522.61 558.89 L521.47 558.89 M536.34 558.89 L530.62 558.89 L530.05 564.04 L530.62 563.46 L532.34 562.89 L534.05 562.89 L535.77 563.46 L536.91 564.61 L537.48 566.32 L537.48 567.47 L536.91 569.18 L535.77 570.33 L534.05 570.90 L532.34 570.90 L530.62 570.33 L530.05 569.76 L529.48 568.61 M477.42 532.38 L478.57 531.80 L480.28 530.09 L480.28 542.10 M488.29 540.96 L487.72 541.53 L488.29 542.10 L488.86 541.53 L488.29 540.96 M492.87 537.52 L499.73 537.52 L499.73 536.38 L499.16 535.24 L498.59 534.66 L497.44 534.09 L495.73 534.09 L494.58 534.66 L493.44 535.81 L492.87 537.52 L492.87 538.67 L493.44 540.38 L494.58 541.53 L495.73 542.10 L497.44 542.10 L498.59 541.53 L499.73 540.38 M504.14 536.95 L513.63 536.95 M521.47 530.09 L519.75 530.66 L518.61 532.38 L518.04 535.24 L518.04 536.95 L518.61 539.81 L519.75 541.53 L521.47 542.10 L522.61 542.10 L524.33 541.53 L525.47 539.81 L526.04 536.95 L526.04 535.24 L525.47 532.38 L524.33 530.66 L522.61 530.09 L521.47 530.09 M535.20 530.09 L529.48 538.10 L538.06 538.10 M535.20 530.09 L535.20 542.10 M477.42 496.58 L478.57 496.00 L480.28 494.29 L480.28 506.30 M488.29 505.16 L487.72 505.73 L488.29 506.30 L488.86 505.73 L488.29 505.16 M492.87 501.72 L499.73 501.72 L499.73 500.58 L499.16 499.44 L498.59 498.86 L497.44 498.29 L495.73 498.29 L494.58 498.86 L493.44 500.01 L492.87 501.72 L492.87 502.87 L493.44 504.58 L494.58 505.73 L495.73 506.30 L497.44 506.30 L498.59 505.73 L499.73 504.58 M504.14 501.15 L513.63 501.15 M521.47 494.29 L519.75 494.86 L518.61 496.58 L518.04 499.44 L518.04 501.15 L518.61 504.01 L519.75 505.73 L521.47 506.30 L522.61 506.30 L524.33 505.73 L525.47 504.01 L526.04 501.15 L526.04 499.44 L525.47 496.58 L524.33 494.86 L522.61 494.29 L521.47 494.29 M530.62 494.29 L536.91 494.29 L533.48 498.86 L535.20 498.86 L536.34 499.44 L536.91 500.01 L537.48 501.72 L537.48 502.87 L536.91 504.58 L535.77 505.73 L534.05 506.30 L532.34 506.30 L530.62 505.73 L530.05 505.16 L529.48 504.01 M477.42 460.78 L478.57 460.20 L480.28 458.49 L480.28 470.50 M488.29 469.36 L487.72 469.93 L488.29 470.50 L488.86 469.93 L488.29 469.36 M492.87 465.92 L499.73 465.92 L499.73 464.78 L499.16 463.64 L498.59 463.06 L497.44 462.49 L495.73 462.49 L494.58 463.06 L493.44 464.21 L492.87 465.92 L492.87 467.07 L493.44 468.78 L494.58 469.93 L495.73 470.50 L497.44 470.50 L498.59 469.93 L499.73 468.78 M504.14 465.35 L513.63 465.35 M521.47 458.49 L519.75 459.06 L518.61 460.78 L518.04 463.64 L518.04 465.35 L518.61 468.21 L519.75 469.93 L521.47 470.50 L522.61 470.50 L524.33 469.93 L525.47 468.21 L526.04 465.35 L526.04 463.64 L525.47 460.78 L524.33 459.06 L522.61 458.49 L521.47 458.49 M530.05 461.35 L530.05 460.78 L530.62 459.63 L531.19 459.06 L532.34 458.49 L534.62 458.49 L535.77 459.06 L536.34 459.63 L536.91 460.78 L536.91 461.92 L536.34 463.06 L535.20 464.78 L529.48 470.50 L537.48 470.50 M477.42 424.98 L478.57 424.40 L480.28 422.69 L480.28 434.70 M488.29 433.56 L487.72 434.13 L488.29 434.70 L488.86 434.13 L488.29 433.56 M492.87 430.12 L499.73 430.12 L499.73 428.98 L499.16 427.84 L498.59 427.26 L497.44 426.69 L495.73 426.69 L494.58 427.26 L493.44 428.41 L492.87 430.12 L492.87 431.27 L493.44 432.98 L494.58 434.13 L495.73 434.70 L497.44 434.70 L498.59 434.13 L499.73 432.98 M504.14 429.55 L513.63 429.55 M521.47 422.69 L519.75 423.26 L518.61 424.98 L518.04 427.84 L518.04 429.55 L518.61 432.41 L519.75 434.13 L521.47 434.70 L522.61 434.70 L524.33 434.13 L525.47 432.41 L526.04 429.55 L526.04 427.84 L525.47 424.98 L524.33 423.26 L522.61 422.69 L521.47 422.69 M531.19 424.98 L532.34 424.40 L534.05 422.69 L534.05 434.70 M477.42 389.18 L478.57 388.60 L480.28 386.89 L480.28 398.90 M488.29 397.76 L487.72 398.33 L488.29 398.90 L488.86 398.33 L488.29 397.76 M492.87 394.32 L499.73 394.32 L499.73 393.18 L499.16 392.04 L498.59 391.46 L497.44 390.89 L495.73 390.89 L494.58 391.46 L493.44 392.61 L492.87 394.32 L492.87 395.47 L493.44 397.18 L494.58 398.33 L495.73 398.90 L497.44 398.90 L498.59 398.33 L499.73 397.18 M508.88 389.00 L508.88 398.50 M504.14 393.75 L513.63 393.75 M521.47 386.89 L519.75 387.46 L518.61 389.18 L518.04 392.04 L518.04 393.75 L518.61 396.61 L519.75 398.33 L521.47 398.90 L522.61 398.90 L524.33 398.33 L525.47 396.61 L526.04 393.75 L526.04 392.04 L525.47 389.18 L524.33 387.46 L522.61 386.89 L521.47 386.89 M532.91 386.89 L531.19 387.46 L530.05 389.18 L529.48 392.04 L529.48 393.75 L530.05 396.61 L531.19 398.33 L532.91 398.90 L534.05 398.90 L535.77 398.33 L536.91 396.61 L537.48 393.75 L537.48 392.04 L536.91 389.18 L535.77 387.46 L534.05 386.89 L532.91 386.89 M477.42 353.38 L478.57 352.80 L480.28 351.09 L480.28 363.10 M488.29 361.96 L487.72 362.53 L488.29 363.10 L488.86 362.53 L488.29 361.96 M492.87 358.52 L499.73 358.52 L499.73 357.38 L499.16 356.24 L498.59 355.66 L497.44 355.09 L495.73 355.09 L494.58 355.66 L493.44 356.81 L492.87 358.52 L492.87 359.67 L493.44 361.38 L494.58 362.53 L495.73 363.10 L497.44 363.10 L498.59 362.53 L499.73 361.38 M508.88 353.20 L508.88 362.70 M504.14 357.95 L513.63 357.95 M521.47 351.09 L519.75 351.66 L518.61 353.38 L518.04 356.24 L518.04 357.95 L518.61 360.81 L519.75 362.53 L521.47 363.10 L522.61 363.10 L524.33 362.53 L525.47 360.81 L526.04 357.95 L526.04 356.24 L525.47 353.38 L524.33 351.66 L522.61 351.09 L521.47 351.09 M531.19 353.38 L532.34 352.80 L534.05 351.09 L534.05 363.10" fill="none" stroke="#555555" stroke-width="1.05" stroke-linecap="round" stroke-linejoin="round"/>
<path transform="translate(457.40 542.89) rotate(-90)" d="M2.29 -12.01 L2.29 0.00 M10.87 -14.30 L9.72 -13.16 L8.58 -11.44 L7.44 -9.15 L6.86 -6.29 L6.86 -4.00 L7.44 -1.14 L8.58 1.14 L9.72 2.86 L10.87 4.00 M14.87 -12.01 L14.87 0.00 M24.60 -9.90 L24.60 -0.40 M19.85 -5.15 L29.34 -5.15 M35.46 -9.72 L36.61 -10.30 L38.32 -12.01 L38.32 0.00 M45.19 -14.30 L46.33 -13.16 L47.48 -11.44 L48.62 -9.15 L49.19 -6.29 L49.19 -4.00 L48.62 -1.14 L47.48 1.14 L46.33 2.86 L45.19 4.00 M70.93 -9.15 L70.36 -10.30 L69.21 -11.44 L68.07 -12.01 L65.78 -12.01 L64.64 -11.44 L63.49 -10.30 L62.92 -9.15 L62.35 -7.44 L62.35 -4.58 L62.92 -2.86 L63.49 -1.72 L64.64 -0.57 L65.78 0.00 L68.07 0.00 L69.21 -0.57 L70.36 -1.72 L70.93 -2.86 M74.06 -16.31 L74.06 -8.87 M74.06 -16.31 L78.67 -16.31 M74.06 -12.77 L76.90 -12.77 M74.06 -8.87 L78.67 -8.87 M81.51 -9.22 L81.16 -8.87 L80.80 -9.22 L81.16 -9.58 L81.51 -9.22 L81.51 -8.51 L81.16 -7.80 L80.80 -7.45 M84.35 -16.31 L84.35 -8.87 M84.35 -16.31 L87.54 -16.31 L88.60 -15.96 L88.96 -15.60 L89.31 -14.89 L89.31 -14.19 L88.96 -13.48 L88.60 -13.12 L87.54 -12.77 M84.35 -12.77 L87.54 -12.77 L88.60 -12.41 L88.96 -12.06 L89.31 -11.35 L89.31 -10.28 L88.96 -9.58 L88.60 -9.22 L87.54 -8.87 L84.35 -8.87 M91.79 -3.44 L91.79 4.00 M104.65 -14.30 L94.36 4.00 M108.09 -9.15 L108.09 -9.72 L108.66 -10.87 L109.23 -11.44 L110.37 -12.01 L112.66 -12.01 L113.81 -11.44 L114.38 -10.87 L114.95 -9.72 L114.95 -8.58 L114.38 -7.44 L113.23 -5.72 L107.51 0.00 L115.52 0.00 M122.39 -8.01 L120.10 0.00 M125.25 -8.01 L125.82 -4.58 L126.39 -1.72 L126.96 0.00 M118.38 -6.29 L119.53 -7.44 L121.24 -8.01 L128.68 -8.01 M141.26 -14.30 L141.26 4.00 M141.83 -14.30 L141.83 4.00 M141.26 -14.30 L145.27 -14.30 M141.26 4.00 L145.27 4.00 M150.99 -8.01 L147.55 4.00 M150.41 -5.72 L149.84 -2.86 L149.84 -1.14 L150.99 0.00 L152.13 0.00 L153.27 -0.57 L154.42 -1.72 L155.56 -4.00 M156.71 -8.01 L155.56 -4.00 L154.99 -1.72 L154.99 -0.57 L155.56 0.00 L156.71 0.00 L157.85 -1.14 L158.42 -2.29 M161.28 -12.01 L161.28 0.00 M169.29 -12.01 L161.28 -4.00 M164.14 -6.86 L169.29 0.00 M172.10 -12.00 L172.10 -12.28 L172.38 -12.82 L172.65 -13.10 L173.20 -13.37 L174.30 -13.37 L174.85 -13.10 L175.12 -12.82 L175.40 -12.28 L175.40 -11.73 L175.12 -11.18 L174.57 -10.35 L171.83 -7.61 L175.67 -7.61 M181.64 -14.30 L181.64 4.00 M182.22 -14.30 L182.22 4.00 M178.21 -14.30 L182.22 -14.30 M178.21 4.00 L182.22 4.00" fill="none" stroke="#555555" stroke-width="1.05" stroke-linecap="round" stroke-linejoin="round"/>
<path d="M143.57 91.93 L135.02 109.20 M131.60 91.93 L143.57 91.93 M158.96 91.93 L150.41 91.93 L149.55 99.33 L150.41 98.51 L152.97 97.68 L155.54 97.68 L158.10 98.51 L159.81 100.15 L160.67 102.62 L160.67 104.26 L159.81 106.73 L158.10 108.38 L155.54 109.20 L152.97 109.20 L150.41 108.38 L149.55 107.55 L148.70 105.91 M178.62 96.04 L177.77 94.39 L176.06 92.75 L174.35 91.93 L170.93 91.93 L169.22 92.75 L167.51 94.39 L166.65 96.04 L165.80 98.51 L165.80 102.62 L166.65 105.09 L167.51 106.73 L169.22 108.38 L170.93 109.20 L174.35 109.20 L176.06 108.38 L177.77 106.73 L178.62 105.09 L178.62 102.62 M174.35 102.62 L178.62 102.62 M184.61 91.93 L184.61 109.20 M196.58 91.93 L196.58 109.20 M184.61 100.15 L196.58 100.15 M211.97 97.68 L202.56 109.20 M202.56 97.68 L211.97 97.68 M202.56 109.20 L211.97 109.20" fill="none" stroke="#5c38e2" stroke-width="1.0" stroke-linecap="round" stroke-linejoin="round"/>
<path d="M133.80 124.32 L135.51 123.49 L138.08 121.03 L138.08 138.30 M153.47 121.03 L150.90 121.85 L149.19 124.32 L148.34 128.43 L148.34 130.90 L149.19 135.01 L150.90 137.48 L153.47 138.30 L155.18 138.30 L157.74 137.48 L159.45 135.01 L160.31 130.90 L160.31 128.43 L159.45 124.32 L157.74 121.85 L155.18 121.03 L153.47 121.03 M175.69 121.03 L167.15 121.03 L166.29 128.43 L167.15 127.61 L169.71 126.78 L172.28 126.78 L174.84 127.61 L176.55 129.25 L177.41 131.72 L177.41 133.36 L176.55 135.83 L174.84 137.48 L172.28 138.30 L169.71 138.30 L167.15 137.48 L166.29 136.65 L165.44 135.01 M195.36 125.14 L194.50 123.49 L192.79 121.85 L191.09 121.03 L187.66 121.03 L185.95 121.85 L184.25 123.49 L183.39 125.14 L182.53 127.61 L182.53 131.72 L183.39 134.19 L184.25 135.83 L185.95 137.48 L187.66 138.30 L191.09 138.30 L192.79 137.48 L194.50 135.83 L195.36 134.19 L195.36 131.72 M191.09 131.72 L195.36 131.72 M201.34 121.03 L201.34 138.30 M213.31 121.03 L213.31 138.30 M201.34 129.25 L213.31 129.25 M228.71 126.78 L219.30 138.30 M219.30 126.78 L228.71 126.78 M219.30 138.30 L228.71 138.30" fill="none" stroke="#3cd2ff" stroke-width="1.0" stroke-linecap="round" stroke-linejoin="round"/>
<path d="M143.57 346.93 L135.02 364.20 M131.60 346.93 L143.57 346.93 M158.96 346.93 L150.41 346.93 L149.55 354.33 L150.41 353.51 L152.97 352.68 L155.54 352.68 L158.10 353.51 L159.81 355.15 L160.67 357.62 L160.67 359.26 L159.81 361.73 L158.10 363.38 L155.54 364.20 L152.97 364.20 L150.41 363.38 L149.55 362.55 L148.70 360.91 M178.62 351.04 L177.77 349.39 L176.06 347.75 L174.35 346.93 L170.93 346.93 L169.22 347.75 L167.51 349.39 L166.65 351.04 L165.80 353.51 L165.80 357.62 L166.65 360.09 L167.51 361.73 L169.22 363.38 L170.93 364.20 L174.35 364.20 L176.06 363.38 L177.77 361.73 L178.62 360.09 L178.62 357.62 M174.35 357.62 L178.62 357.62 M184.61 346.93 L184.61 364.20 M196.58 346.93 L196.58 364.20 M184.61 355.15 L196.58 355.15 M211.97 352.68 L202.56 364.20 M202.56 352.68 L211.97 352.68 M202.56 364.20 L211.97 364.20" fill="none" stroke="#5c38e2" stroke-width="1.0" stroke-linecap="round" stroke-linejoin="round"/>
<path d="M133.80 377.72 L135.51 376.89 L138.08 374.43 L138.08 391.70 M153.47 374.43 L150.90 375.25 L149.19 377.72 L148.34 381.83 L148.34 384.30 L149.19 388.41 L150.90 390.88 L153.47 391.70 L155.18 391.70 L157.74 390.88 L159.45 388.41 L160.31 384.30 L160.31 381.83 L159.45 377.72 L157.74 375.25 L155.18 374.43 L153.47 374.43 M175.69 374.43 L167.15 374.43 L166.29 381.83 L167.15 381.01 L169.71 380.18 L172.28 380.18 L174.84 381.01 L176.55 382.65 L177.41 385.12 L177.41 386.76 L176.55 389.23 L174.84 390.88 L172.28 391.70 L169.71 391.70 L167.15 390.88 L166.29 390.05 L165.44 388.41 M195.36 378.54 L194.50 376.89 L192.79 375.25 L191.09 374.43 L187.66 374.43 L185.95 375.25 L184.25 376.89 L183.39 378.54 L182.53 381.01 L182.53 385.12 L183.39 387.59 L184.25 389.23 L185.95 390.88 L187.66 391.70 L191.09 391.70 L192.79 390.88 L194.50 389.23 L195.36 387.59 L195.36 385.12 M191.09 385.12 L195.36 385.12 M201.34 374.43 L201.34 391.70 M213.31 374.43 L213.31 391.70 M201.34 382.65 L213.31 382.65 M228.71 380.18 L219.30 391.70 M219.30 380.18 L228.71 380.18 M219.30 391.70 L228.71 391.70" fill="none" stroke="#3cd2ff" stroke-width="1.0" stroke-linecap="round" stroke-linejoin="round"/>
<path d="M570.60 95.22 L572.31 94.39 L574.88 91.93 L574.88 109.20 M596.25 94.39 L595.40 92.75 L592.83 91.93 L591.12 91.93 L588.56 92.75 L586.85 95.22 L585.99 99.33 L585.99 103.44 L586.85 106.73 L588.56 108.38 L591.12 109.20 L591.98 109.20 L594.54 108.38 L596.25 106.73 L597.11 104.26 L597.11 103.44 L596.25 100.97 L594.54 99.33 L591.98 98.51 L591.12 98.51 L588.56 99.33 L586.85 100.97 L585.99 103.44 M612.50 91.93 L603.95 91.93 L603.09 99.33 L603.95 98.51 L606.51 97.68 L609.08 97.68 L611.64 98.51 L613.35 100.15 L614.21 102.62 L614.21 104.26 L613.35 106.73 L611.64 108.38 L609.08 109.20 L606.51 109.20 L603.95 108.38 L603.09 107.55 L602.24 105.91 M632.16 96.04 L631.31 94.39 L629.60 92.75 L627.89 91.93 L624.47 91.93 L622.76 92.75 L621.05 94.39 L620.19 96.04 L619.34 98.51 L619.34 102.62 L620.19 105.09 L621.05 106.73 L622.76 108.38 L624.47 109.20 L627.89 109.20 L629.60 108.38 L631.31 106.73 L632.16 105.09 L632.16 102.62 M627.89 102.62 L632.16 102.62 M638.15 91.93 L638.15 109.20 M650.12 91.93 L650.12 109.20 M638.15 100.15 L650.12 100.15 M665.51 97.68 L656.10 109.20 M656.10 97.68 L665.51 97.68 M656.10 109.20 L665.51 109.20" fill="none" stroke="#44f662" stroke-width="1.0" stroke-linecap="round" stroke-linejoin="round"/>
<path d="M568.90 125.14 L568.90 124.32 L569.75 122.67 L570.61 121.85 L572.32 121.03 L575.74 121.03 L577.45 121.85 L578.31 122.67 L579.16 124.32 L579.16 125.96 L578.31 127.61 L576.60 130.07 L568.05 138.30 L580.01 138.30 M586.00 125.14 L586.00 124.32 L586.86 122.67 L587.71 121.85 L589.42 121.03 L592.84 121.03 L594.55 121.85 L595.41 122.67 L596.26 124.32 L596.26 125.96 L595.41 127.61 L593.70 130.07 L585.15 138.30 L597.12 138.30 M612.51 121.03 L603.96 121.03 L603.10 128.43 L603.96 127.61 L606.52 126.78 L609.09 126.78 L611.65 127.61 L613.36 129.25 L614.22 131.72 L614.22 133.36 L613.36 135.83 L611.65 137.48 L609.09 138.30 L606.52 138.30 L603.96 137.48 L603.10 136.65 L602.25 135.01 M632.17 125.14 L631.32 123.49 L629.61 121.85 L627.90 121.03 L624.48 121.03 L622.77 121.85 L621.06 123.49 L620.20 125.14 L619.35 127.61 L619.35 131.72 L620.20 134.19 L621.06 135.83 L622.77 137.48 L624.48 138.30 L627.90 138.30 L629.61 137.48 L631.32 135.83 L632.17 134.19 L632.17 131.72 M627.90 131.72 L632.17 131.72 M638.16 121.03 L638.16 138.30 M650.13 121.03 L650.13 138.30 M638.16 129.25 L650.13 129.25 M665.52 126.78 L656.11 138.30 M656.11 126.78 L665.52 126.78 M656.11 138.30 L665.52 138.30" fill="none" stroke="#ff523c" stroke-width="1.0" stroke-linecap="round" stroke-linejoin="round"/>
<path d="M570.60 350.22 L572.31 349.39 L574.88 346.93 L574.88 364.20 M596.25 349.39 L595.40 347.75 L592.83 346.93 L591.12 346.93 L588.56 347.75 L586.85 350.22 L585.99 354.33 L585.99 358.44 L586.85 361.73 L588.56 363.38 L591.12 364.20 L591.98 364.20 L594.54 363.38 L596.25 361.73 L597.11 359.26 L597.11 358.44 L596.25 355.97 L594.54 354.33 L591.98 353.51 L591.12 353.51 L588.56 354.33 L586.85 355.97 L585.99 358.44 M612.50 346.93 L603.95 346.93 L603.09 354.33 L603.95 353.51 L606.51 352.68 L609.08 352.68 L611.64 353.51 L613.35 355.15 L614.21 357.62 L614.21 359.26 L613.35 361.73 L611.64 363.38 L609.08 364.20 L606.51 364.20 L603.95 363.38 L603.09 362.55 L602.24 360.91 M632.16 351.04 L631.31 349.39 L629.60 347.75 L627.89 346.93 L624.47 346.93 L622.76 347.75 L621.05 349.39 L620.19 351.04 L619.34 353.51 L619.34 357.62 L620.19 360.09 L621.05 361.73 L622.76 363.38 L624.47 364.20 L627.89 364.20 L629.60 363.38 L631.31 361.73 L632.16 360.09 L632.16 357.62 M627.89 357.62 L632.16 357.62 M638.15 346.93 L638.15 364.20 M650.12 346.93 L650.12 364.20 M638.15 355.15 L650.12 355.15 M665.51 352.68 L656.10 364.20 M656.10 352.68 L665.51 352.68 M656.10 364.20 L665.51 364.20" fill="none" stroke="#44f662" stroke-width="1.0" stroke-linecap="round" stroke-linejoin="round"/>
<path d="M568.90 378.54 L568.90 377.72 L569.75 376.07 L570.61 375.25 L572.32 374.43 L575.74 374.43 L577.45 375.25 L578.31 376.07 L579.16 377.72 L579.16 379.36 L578.31 381.01 L576.60 383.47 L568.05 391.70 L580.01 391.70 M586.00 378.54 L586.00 377.72 L586.86 376.07 L587.71 375.25 L589.42 374.43 L592.84 374.43 L594.55 375.25 L595.41 376.07 L596.26 377.72 L596.26 379.36 L595.41 381.01 L593.70 383.47 L585.15 391.70 L597.12 391.70 M612.51 374.43 L603.96 374.43 L603.10 381.83 L603.96 381.01 L606.52 380.18 L609.09 380.18 L611.65 381.01 L613.36 382.65 L614.22 385.12 L614.22 386.76 L613.36 389.23 L611.65 390.88 L609.09 391.70 L606.52 391.70 L603.96 390.88 L603.10 390.05 L602.25 388.41 M632.17 378.54 L631.32 376.89 L629.61 375.25 L627.90 374.43 L624.48 374.43 L622.77 375.25 L621.06 376.89 L620.20 378.54 L619.35 381.01 L619.35 385.12 L620.20 387.59 L621.06 389.23 L622.77 390.88 L624.48 391.70 L627.90 391.70 L629.61 390.88 L631.32 389.23 L632.17 387.59 L632.17 385.12 M627.90 385.12 L632.17 385.12 M638.16 374.43 L638.16 391.70 M650.13 374.43 L650.13 391.70 M638.16 382.65 L650.13 382.65 M665.52 380.18 L656.11 391.70 M656.11 380.18 L665.52 380.18 M656.11 391.70 L665.52 391.70" fill="none" stroke="#ff523c" stroke-width="1.0" stroke-linecap="round" stroke-linejoin="round"/>
</svg>
</body></html>
